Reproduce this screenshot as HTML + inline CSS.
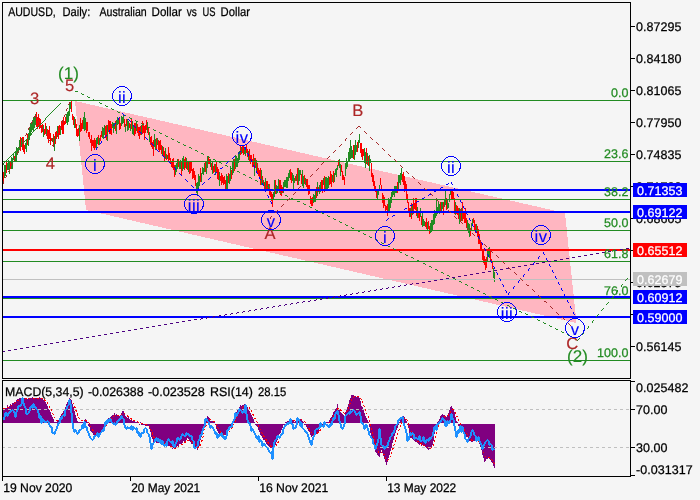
<!DOCTYPE html>
<html><head><meta charset="utf-8"><title>AUDUSD Daily</title>
<style>
html,body{margin:0;padding:0;background:#f5f5f5;}
body{width:700px;height:500px;overflow:hidden;}
svg{display:block;font-family:"Liberation Sans",sans-serif;}
svg text{white-space:pre;paint-order:stroke;}
#w{position:absolute;left:0;top:0;width:700px;height:500px;will-change:transform;}
</style></head><body>
<div id="w">
<svg width="700" height="500" viewBox="0 0 700 500" shape-rendering="crispEdges" text-rendering="geometricPrecision">
<rect width="700" height="500" fill="#f5f5f5"/>
<polygon points="75,101 565,213 576.5,323 86,210" fill="#ffb6c1"/>
<g>
<rect x="3" y="172" width="1" height="9" fill="#ff0000"/>
<rect x="4" y="165" width="1" height="13" fill="#228b22"/>
<rect x="5" y="165" width="1" height="11" fill="#228b22"/>
<rect x="6" y="161" width="1" height="12" fill="#ff0000"/>
<rect x="7" y="163" width="1" height="7" fill="#228b22"/>
<rect x="8" y="160" width="1" height="10" fill="#228b22"/>
<rect x="9" y="162" width="1" height="12" fill="#228b22"/>
<rect x="10" y="162" width="1" height="7" fill="#ff0000"/>
<rect x="11" y="157" width="1" height="12" fill="#228b22"/>
<rect x="12" y="158" width="1" height="11" fill="#228b22"/>
<rect x="13" y="153" width="1" height="7" fill="#228b22"/>
<rect x="14" y="156" width="1" height="6" fill="#ff0000"/>
<rect x="15" y="151" width="1" height="11" fill="#228b22"/>
<rect x="16" y="147" width="1" height="14" fill="#228b22"/>
<rect x="17" y="148" width="1" height="7" fill="#228b22"/>
<rect x="18" y="147" width="1" height="6" fill="#228b22"/>
<rect x="19" y="140" width="1" height="10" fill="#228b22"/>
<rect x="20" y="137" width="1" height="14" fill="#ff0000"/>
<rect x="21" y="138" width="1" height="9" fill="#228b22"/>
<rect x="22" y="137" width="1" height="13" fill="#ff0000"/>
<rect x="23" y="137" width="1" height="15" fill="#ff0000"/>
<rect x="24" y="145" width="1" height="9" fill="#ff0000"/>
<rect x="25" y="143" width="1" height="6" fill="#228b22"/>
<rect x="26" y="140" width="1" height="12" fill="#228b22"/>
<rect x="27" y="134" width="1" height="11" fill="#ff0000"/>
<rect x="28" y="133" width="1" height="13" fill="#228b22"/>
<rect x="29" y="128" width="1" height="12" fill="#228b22"/>
<rect x="30" y="123" width="1" height="12" fill="#228b22"/>
<rect x="31" y="123" width="1" height="9" fill="#228b22"/>
<rect x="32" y="120" width="1" height="10" fill="#228b22"/>
<rect x="33" y="117" width="1" height="14" fill="#228b22"/>
<rect x="34" y="117" width="1" height="11" fill="#228b22"/>
<rect x="35" y="114" width="1" height="11" fill="#228b22"/>
<rect x="36" y="112" width="1" height="15" fill="#ff0000"/>
<rect x="37" y="117" width="1" height="12" fill="#ff0000"/>
<rect x="38" y="114" width="1" height="13" fill="#ff0000"/>
<rect x="39" y="118" width="1" height="11" fill="#ff0000"/>
<rect x="40" y="119" width="1" height="9" fill="#ff0000"/>
<rect x="41" y="125" width="1" height="8" fill="#ff0000"/>
<rect x="42" y="124" width="1" height="8" fill="#ff0000"/>
<rect x="43" y="125" width="1" height="12" fill="#228b22"/>
<rect x="44" y="129" width="1" height="6" fill="#ff0000"/>
<rect x="45" y="123" width="1" height="11" fill="#ff0000"/>
<rect x="46" y="126" width="1" height="8" fill="#228b22"/>
<rect x="47" y="129" width="1" height="10" fill="#ff0000"/>
<rect x="48" y="130" width="1" height="13" fill="#ff0000"/>
<rect x="49" y="126" width="1" height="13" fill="#ff0000"/>
<rect x="50" y="133" width="1" height="12" fill="#ff0000"/>
<rect x="51" y="138" width="1" height="3" fill="#ff0000"/>
<rect x="52" y="138" width="1" height="4" fill="#228b22"/>
<rect x="53" y="134" width="1" height="11" fill="#ff0000"/>
<rect x="54" y="136" width="1" height="15" fill="#228b22"/>
<rect x="55" y="132" width="1" height="12" fill="#ff0000"/>
<rect x="56" y="131" width="1" height="8" fill="#ff0000"/>
<rect x="57" y="126" width="1" height="11" fill="#228b22"/>
<rect x="58" y="126" width="1" height="13" fill="#ff0000"/>
<rect x="59" y="125" width="1" height="10" fill="#ff0000"/>
<rect x="60" y="128" width="1" height="7" fill="#228b22"/>
<rect x="61" y="121" width="1" height="9" fill="#ff0000"/>
<rect x="62" y="121" width="1" height="13" fill="#ff0000"/>
<rect x="63" y="117" width="1" height="17" fill="#ff0000"/>
<rect x="64" y="121" width="1" height="4" fill="#ff0000"/>
<rect x="65" y="117" width="1" height="7" fill="#ff0000"/>
<rect x="66" y="114" width="1" height="9" fill="#228b22"/>
<rect x="67" y="112" width="1" height="13" fill="#228b22"/>
<rect x="68" y="111" width="1" height="11" fill="#228b22"/>
<rect x="69" y="102" width="1" height="14" fill="#228b22"/>
<rect x="70" y="102" width="1" height="7" fill="#228b22"/>
<rect x="71" y="101" width="1" height="11" fill="#ff0000"/>
<rect x="72" y="114" width="1" height="6" fill="#ff0000"/>
<rect x="73" y="116" width="1" height="9" fill="#ff0000"/>
<rect x="74" y="117" width="1" height="11" fill="#228b22"/>
<rect x="75" y="119" width="1" height="9" fill="#ff0000"/>
<rect x="76" y="124" width="1" height="12" fill="#ff0000"/>
<rect x="77" y="129" width="1" height="8" fill="#ff0000"/>
<rect x="78" y="128" width="1" height="8" fill="#ff0000"/>
<rect x="79" y="125" width="1" height="16" fill="#228b22"/>
<rect x="80" y="118" width="1" height="14" fill="#ff0000"/>
<rect x="81" y="123" width="1" height="8" fill="#ff0000"/>
<rect x="82" y="120" width="1" height="9" fill="#ff0000"/>
<rect x="83" y="117" width="1" height="12" fill="#228b22"/>
<rect x="84" y="112" width="1" height="19" fill="#228b22"/>
<rect x="85" y="118" width="1" height="12" fill="#228b22"/>
<rect x="86" y="122" width="1" height="11" fill="#ff0000"/>
<rect x="87" y="122" width="1" height="9" fill="#ff0000"/>
<rect x="88" y="132" width="1" height="5" fill="#ff0000"/>
<rect x="89" y="132" width="1" height="7" fill="#ff0000"/>
<rect x="90" y="139" width="1" height="4" fill="#ff0000"/>
<rect x="91" y="135" width="1" height="16" fill="#ff0000"/>
<rect x="92" y="140" width="1" height="6" fill="#ff0000"/>
<rect x="93" y="140" width="1" height="8" fill="#ff0000"/>
<rect x="94" y="138" width="1" height="12" fill="#ff0000"/>
<rect x="95" y="140" width="1" height="8" fill="#ff0000"/>
<rect x="96" y="138" width="1" height="10" fill="#228b22"/>
<rect x="97" y="137" width="1" height="7" fill="#228b22"/>
<rect x="98" y="135" width="1" height="10" fill="#ff0000"/>
<rect x="99" y="138" width="1" height="7" fill="#228b22"/>
<rect x="100" y="135" width="1" height="6" fill="#ff0000"/>
<rect x="101" y="131" width="1" height="6" fill="#ff0000"/>
<rect x="102" y="127" width="1" height="11" fill="#228b22"/>
<rect x="103" y="128" width="1" height="11" fill="#228b22"/>
<rect x="104" y="125" width="1" height="10" fill="#228b22"/>
<rect x="105" y="126" width="1" height="12" fill="#ff0000"/>
<rect x="106" y="125" width="1" height="15" fill="#ff0000"/>
<rect x="107" y="125" width="1" height="16" fill="#228b22"/>
<rect x="108" y="120" width="1" height="12" fill="#ff0000"/>
<rect x="109" y="121" width="1" height="13" fill="#ff0000"/>
<rect x="110" y="121" width="1" height="13" fill="#ff0000"/>
<rect x="111" y="124" width="1" height="11" fill="#ff0000"/>
<rect x="112" y="122" width="1" height="6" fill="#228b22"/>
<rect x="113" y="123" width="1" height="10" fill="#228b22"/>
<rect x="114" y="123" width="1" height="6" fill="#228b22"/>
<rect x="115" y="121" width="1" height="10" fill="#ff0000"/>
<rect x="116" y="120" width="1" height="14" fill="#228b22"/>
<rect x="117" y="117" width="1" height="8" fill="#228b22"/>
<rect x="118" y="119" width="1" height="5" fill="#228b22"/>
<rect x="119" y="117" width="1" height="13" fill="#ff0000"/>
<rect x="120" y="123" width="1" height="6" fill="#ff0000"/>
<rect x="121" y="116" width="1" height="10" fill="#228b22"/>
<rect x="122" y="117" width="1" height="7" fill="#228b22"/>
<rect x="123" y="115" width="1" height="8" fill="#228b22"/>
<rect x="124" y="119" width="1" height="8" fill="#ff0000"/>
<rect x="125" y="124" width="1" height="8" fill="#228b22"/>
<rect x="126" y="119" width="1" height="7" fill="#ff0000"/>
<rect x="127" y="119" width="1" height="12" fill="#228b22"/>
<rect x="128" y="121" width="1" height="9" fill="#228b22"/>
<rect x="129" y="123" width="1" height="5" fill="#ff0000"/>
<rect x="130" y="124" width="1" height="7" fill="#228b22"/>
<rect x="131" y="119" width="1" height="10" fill="#ff0000"/>
<rect x="132" y="121" width="1" height="13" fill="#228b22"/>
<rect x="133" y="126" width="1" height="9" fill="#228b22"/>
<rect x="134" y="123" width="1" height="13" fill="#ff0000"/>
<rect x="135" y="123" width="1" height="11" fill="#ff0000"/>
<rect x="136" y="121" width="1" height="10" fill="#228b22"/>
<rect x="137" y="124" width="1" height="9" fill="#ff0000"/>
<rect x="138" y="127" width="1" height="9" fill="#ff0000"/>
<rect x="139" y="127" width="1" height="12" fill="#ff0000"/>
<rect x="140" y="126" width="1" height="9" fill="#ff0000"/>
<rect x="141" y="125" width="1" height="10" fill="#228b22"/>
<rect x="142" y="121" width="1" height="13" fill="#ff0000"/>
<rect x="143" y="123" width="1" height="10" fill="#ff0000"/>
<rect x="144" y="126" width="1" height="14" fill="#ff0000"/>
<rect x="145" y="125" width="1" height="8" fill="#ff0000"/>
<rect x="146" y="120" width="1" height="10" fill="#ff0000"/>
<rect x="147" y="122" width="1" height="11" fill="#228b22"/>
<rect x="148" y="128" width="1" height="7" fill="#ff0000"/>
<rect x="149" y="132" width="1" height="10" fill="#228b22"/>
<rect x="150" y="137" width="1" height="8" fill="#ff0000"/>
<rect x="151" y="136" width="1" height="11" fill="#ff0000"/>
<rect x="152" y="142" width="1" height="7" fill="#ff0000"/>
<rect x="153" y="140" width="1" height="16" fill="#ff0000"/>
<rect x="154" y="134" width="1" height="13" fill="#228b22"/>
<rect x="155" y="139" width="1" height="11" fill="#228b22"/>
<rect x="156" y="138" width="1" height="12" fill="#ff0000"/>
<rect x="157" y="138" width="1" height="7" fill="#228b22"/>
<rect x="158" y="140" width="1" height="10" fill="#ff0000"/>
<rect x="159" y="141" width="1" height="11" fill="#ff0000"/>
<rect x="160" y="140" width="1" height="10" fill="#ff0000"/>
<rect x="161" y="145" width="1" height="9" fill="#ff0000"/>
<rect x="162" y="146" width="1" height="10" fill="#228b22"/>
<rect x="163" y="147" width="1" height="10" fill="#ff0000"/>
<rect x="164" y="151" width="1" height="10" fill="#ff0000"/>
<rect x="165" y="148" width="1" height="11" fill="#228b22"/>
<rect x="166" y="154" width="1" height="6" fill="#ff0000"/>
<rect x="167" y="155" width="1" height="4" fill="#228b22"/>
<rect x="168" y="147" width="1" height="15" fill="#ff0000"/>
<rect x="169" y="153" width="1" height="7" fill="#ff0000"/>
<rect x="170" y="158" width="1" height="5" fill="#ff0000"/>
<rect x="171" y="161" width="1" height="6" fill="#ff0000"/>
<rect x="172" y="159" width="1" height="9" fill="#ff0000"/>
<rect x="173" y="158" width="1" height="12" fill="#ff0000"/>
<rect x="174" y="165" width="1" height="12" fill="#ff0000"/>
<rect x="175" y="165" width="1" height="10" fill="#228b22"/>
<rect x="176" y="163" width="1" height="9" fill="#228b22"/>
<rect x="177" y="159" width="1" height="10" fill="#228b22"/>
<rect x="178" y="159" width="1" height="8" fill="#ff0000"/>
<rect x="179" y="161" width="1" height="8" fill="#228b22"/>
<rect x="180" y="160" width="1" height="9" fill="#228b22"/>
<rect x="181" y="162" width="1" height="14" fill="#ff0000"/>
<rect x="182" y="158" width="1" height="13" fill="#228b22"/>
<rect x="183" y="156" width="1" height="13" fill="#228b22"/>
<rect x="184" y="159" width="1" height="11" fill="#ff0000"/>
<rect x="185" y="157" width="1" height="11" fill="#ff0000"/>
<rect x="186" y="158" width="1" height="11" fill="#228b22"/>
<rect x="187" y="161" width="1" height="9" fill="#ff0000"/>
<rect x="188" y="162" width="1" height="10" fill="#228b22"/>
<rect x="189" y="162" width="1" height="12" fill="#ff0000"/>
<rect x="190" y="162" width="1" height="11" fill="#ff0000"/>
<rect x="191" y="162" width="1" height="9" fill="#ff0000"/>
<rect x="192" y="169" width="1" height="10" fill="#ff0000"/>
<rect x="193" y="168" width="1" height="10" fill="#ff0000"/>
<rect x="194" y="171" width="1" height="9" fill="#ff0000"/>
<rect x="195" y="175" width="1" height="11" fill="#ff0000"/>
<rect x="196" y="183" width="1" height="10" fill="#228b22"/>
<rect x="197" y="182" width="1" height="13" fill="#228b22"/>
<rect x="198" y="174" width="1" height="14" fill="#228b22"/>
<rect x="199" y="176" width="1" height="10" fill="#228b22"/>
<rect x="200" y="168" width="1" height="14" fill="#ff0000"/>
<rect x="201" y="173" width="1" height="9" fill="#228b22"/>
<rect x="202" y="167" width="1" height="7" fill="#228b22"/>
<rect x="203" y="168" width="1" height="7" fill="#228b22"/>
<rect x="204" y="163" width="1" height="9" fill="#228b22"/>
<rect x="205" y="161" width="1" height="11" fill="#ff0000"/>
<rect x="206" y="161" width="1" height="13" fill="#228b22"/>
<rect x="207" y="157" width="1" height="11" fill="#228b22"/>
<rect x="208" y="157" width="1" height="7" fill="#ff0000"/>
<rect x="209" y="159" width="1" height="5" fill="#ff0000"/>
<rect x="210" y="159" width="1" height="8" fill="#228b22"/>
<rect x="211" y="163" width="1" height="7" fill="#ff0000"/>
<rect x="212" y="162" width="1" height="12" fill="#228b22"/>
<rect x="213" y="166" width="1" height="7" fill="#ff0000"/>
<rect x="214" y="164" width="1" height="8" fill="#ff0000"/>
<rect x="215" y="164" width="1" height="11" fill="#228b22"/>
<rect x="216" y="162" width="1" height="10" fill="#ff0000"/>
<rect x="217" y="167" width="1" height="12" fill="#ff0000"/>
<rect x="218" y="169" width="1" height="11" fill="#ff0000"/>
<rect x="219" y="172" width="1" height="14" fill="#228b22"/>
<rect x="220" y="176" width="1" height="5" fill="#ff0000"/>
<rect x="221" y="173" width="1" height="12" fill="#ff0000"/>
<rect x="222" y="175" width="1" height="8" fill="#ff0000"/>
<rect x="223" y="177" width="1" height="8" fill="#ff0000"/>
<rect x="224" y="176" width="1" height="8" fill="#ff0000"/>
<rect x="225" y="180" width="1" height="9" fill="#ff0000"/>
<rect x="226" y="174" width="1" height="15" fill="#228b22"/>
<rect x="227" y="176" width="1" height="13" fill="#228b22"/>
<rect x="228" y="173" width="1" height="10" fill="#ff0000"/>
<rect x="229" y="174" width="1" height="10" fill="#228b22"/>
<rect x="230" y="166" width="1" height="15" fill="#228b22"/>
<rect x="231" y="170" width="1" height="9" fill="#ff0000"/>
<rect x="232" y="162" width="1" height="13" fill="#228b22"/>
<rect x="233" y="159" width="1" height="14" fill="#228b22"/>
<rect x="234" y="159" width="1" height="12" fill="#ff0000"/>
<rect x="235" y="155" width="1" height="14" fill="#228b22"/>
<rect x="236" y="156" width="1" height="11" fill="#228b22"/>
<rect x="237" y="158" width="1" height="9" fill="#228b22"/>
<rect x="238" y="152" width="1" height="11" fill="#228b22"/>
<rect x="239" y="151" width="1" height="9" fill="#228b22"/>
<rect x="240" y="146" width="1" height="9" fill="#ff0000"/>
<rect x="241" y="147" width="1" height="7" fill="#228b22"/>
<rect x="242" y="146" width="1" height="7" fill="#ff0000"/>
<rect x="243" y="146" width="1" height="9" fill="#ff0000"/>
<rect x="244" y="148" width="1" height="6" fill="#228b22"/>
<rect x="245" y="147" width="1" height="9" fill="#228b22"/>
<rect x="246" y="145" width="1" height="8" fill="#ff0000"/>
<rect x="247" y="149" width="1" height="8" fill="#ff0000"/>
<rect x="248" y="151" width="1" height="9" fill="#228b22"/>
<rect x="249" y="149" width="1" height="13" fill="#ff0000"/>
<rect x="250" y="155" width="1" height="9" fill="#ff0000"/>
<rect x="251" y="155" width="1" height="6" fill="#ff0000"/>
<rect x="252" y="159" width="1" height="8" fill="#ff0000"/>
<rect x="253" y="154" width="1" height="13" fill="#ff0000"/>
<rect x="254" y="158" width="1" height="18" fill="#228b22"/>
<rect x="255" y="158" width="1" height="10" fill="#ff0000"/>
<rect x="256" y="160" width="1" height="13" fill="#228b22"/>
<rect x="257" y="163" width="1" height="10" fill="#ff0000"/>
<rect x="258" y="168" width="1" height="8" fill="#ff0000"/>
<rect x="259" y="170" width="1" height="8" fill="#ff0000"/>
<rect x="260" y="168" width="1" height="17" fill="#ff0000"/>
<rect x="261" y="170" width="1" height="15" fill="#228b22"/>
<rect x="262" y="176" width="1" height="7" fill="#ff0000"/>
<rect x="263" y="180" width="1" height="4" fill="#228b22"/>
<rect x="264" y="182" width="1" height="7" fill="#ff0000"/>
<rect x="265" y="178" width="1" height="13" fill="#228b22"/>
<rect x="266" y="181" width="1" height="9" fill="#ff0000"/>
<rect x="267" y="181" width="1" height="9" fill="#ff0000"/>
<rect x="268" y="184" width="1" height="5" fill="#228b22"/>
<rect x="269" y="184" width="1" height="11" fill="#ff0000"/>
<rect x="270" y="190" width="1" height="7" fill="#ff0000"/>
<rect x="271" y="192" width="1" height="9" fill="#ff0000"/>
<rect x="272" y="194" width="1" height="13" fill="#ff0000"/>
<rect x="273" y="192" width="1" height="8" fill="#228b22"/>
<rect x="274" y="180" width="1" height="17" fill="#228b22"/>
<rect x="275" y="180" width="1" height="14" fill="#ff0000"/>
<rect x="276" y="185" width="1" height="9" fill="#228b22"/>
<rect x="277" y="186" width="1" height="7" fill="#228b22"/>
<rect x="278" y="179" width="1" height="12" fill="#228b22"/>
<rect x="279" y="180" width="1" height="13" fill="#ff0000"/>
<rect x="280" y="180" width="1" height="15" fill="#ff0000"/>
<rect x="281" y="185" width="1" height="11" fill="#ff0000"/>
<rect x="282" y="187" width="1" height="6" fill="#ff0000"/>
<rect x="283" y="182" width="1" height="11" fill="#228b22"/>
<rect x="284" y="180" width="1" height="7" fill="#228b22"/>
<rect x="285" y="180" width="1" height="7" fill="#228b22"/>
<rect x="286" y="177" width="1" height="11" fill="#228b22"/>
<rect x="287" y="177" width="1" height="11" fill="#228b22"/>
<rect x="288" y="173" width="1" height="8" fill="#228b22"/>
<rect x="289" y="170" width="1" height="8" fill="#228b22"/>
<rect x="290" y="169" width="1" height="11" fill="#ff0000"/>
<rect x="291" y="172" width="1" height="11" fill="#ff0000"/>
<rect x="292" y="173" width="1" height="8" fill="#228b22"/>
<rect x="293" y="175" width="1" height="15" fill="#228b22"/>
<rect x="294" y="178" width="1" height="5" fill="#228b22"/>
<rect x="295" y="176" width="1" height="5" fill="#ff0000"/>
<rect x="296" y="174" width="1" height="7" fill="#228b22"/>
<rect x="297" y="168" width="1" height="17" fill="#ff0000"/>
<rect x="298" y="168" width="1" height="17" fill="#228b22"/>
<rect x="299" y="170" width="1" height="11" fill="#228b22"/>
<rect x="300" y="170" width="1" height="5" fill="#228b22"/>
<rect x="301" y="174" width="1" height="10" fill="#ff0000"/>
<rect x="302" y="170" width="1" height="16" fill="#228b22"/>
<rect x="303" y="176" width="1" height="12" fill="#228b22"/>
<rect x="304" y="175" width="1" height="9" fill="#ff0000"/>
<rect x="305" y="178" width="1" height="7" fill="#228b22"/>
<rect x="306" y="179" width="1" height="8" fill="#ff0000"/>
<rect x="307" y="179" width="1" height="12" fill="#ff0000"/>
<rect x="308" y="185" width="1" height="10" fill="#ff0000"/>
<rect x="309" y="185" width="1" height="9" fill="#ff0000"/>
<rect x="310" y="196" width="1" height="8" fill="#ff0000"/>
<rect x="311" y="198" width="1" height="8" fill="#ff0000"/>
<rect x="312" y="197" width="1" height="9" fill="#ff0000"/>
<rect x="313" y="194" width="1" height="9" fill="#228b22"/>
<rect x="314" y="195" width="1" height="7" fill="#228b22"/>
<rect x="315" y="191" width="1" height="11" fill="#228b22"/>
<rect x="316" y="187" width="1" height="11" fill="#ff0000"/>
<rect x="317" y="182" width="1" height="14" fill="#228b22"/>
<rect x="318" y="187" width="1" height="5" fill="#ff0000"/>
<rect x="319" y="185" width="1" height="9" fill="#228b22"/>
<rect x="320" y="182" width="1" height="10" fill="#228b22"/>
<rect x="321" y="180" width="1" height="10" fill="#ff0000"/>
<rect x="322" y="180" width="1" height="13" fill="#ff0000"/>
<rect x="323" y="178" width="1" height="7" fill="#228b22"/>
<rect x="324" y="176" width="1" height="16" fill="#ff0000"/>
<rect x="325" y="177" width="1" height="13" fill="#228b22"/>
<rect x="326" y="177" width="1" height="13" fill="#228b22"/>
<rect x="327" y="178" width="1" height="12" fill="#228b22"/>
<rect x="328" y="176" width="1" height="12" fill="#228b22"/>
<rect x="329" y="177" width="1" height="8" fill="#ff0000"/>
<rect x="330" y="171" width="1" height="13" fill="#ff0000"/>
<rect x="331" y="174" width="1" height="13" fill="#ff0000"/>
<rect x="332" y="175" width="1" height="7" fill="#228b22"/>
<rect x="333" y="171" width="1" height="12" fill="#ff0000"/>
<rect x="334" y="173" width="1" height="9" fill="#228b22"/>
<rect x="335" y="169" width="1" height="6" fill="#228b22"/>
<rect x="336" y="168" width="1" height="9" fill="#228b22"/>
<rect x="337" y="165" width="1" height="5" fill="#228b22"/>
<rect x="338" y="160" width="1" height="6" fill="#ff0000"/>
<rect x="339" y="159" width="1" height="9" fill="#228b22"/>
<rect x="340" y="164" width="1" height="12" fill="#228b22"/>
<rect x="341" y="165" width="1" height="7" fill="#ff0000"/>
<rect x="342" y="171" width="1" height="9" fill="#ff0000"/>
<rect x="343" y="175" width="1" height="5" fill="#ff0000"/>
<rect x="344" y="177" width="1" height="8" fill="#ff0000"/>
<rect x="345" y="163" width="1" height="13" fill="#228b22"/>
<rect x="346" y="158" width="1" height="11" fill="#228b22"/>
<rect x="347" y="162" width="1" height="5" fill="#228b22"/>
<rect x="348" y="152" width="1" height="9" fill="#228b22"/>
<rect x="349" y="148" width="1" height="14" fill="#228b22"/>
<rect x="350" y="140" width="1" height="19" fill="#228b22"/>
<rect x="351" y="146" width="1" height="12" fill="#228b22"/>
<rect x="352" y="150" width="1" height="8" fill="#228b22"/>
<rect x="353" y="145" width="1" height="14" fill="#ff0000"/>
<rect x="354" y="145" width="1" height="15" fill="#228b22"/>
<rect x="355" y="140" width="1" height="15" fill="#228b22"/>
<rect x="356" y="145" width="1" height="7" fill="#228b22"/>
<rect x="357" y="142" width="1" height="10" fill="#ff0000"/>
<rect x="358" y="140" width="1" height="8" fill="#228b22"/>
<rect x="359" y="134" width="1" height="9" fill="#228b22"/>
<rect x="360" y="143" width="1" height="10" fill="#ff0000"/>
<rect x="361" y="143" width="1" height="14" fill="#ff0000"/>
<rect x="362" y="149" width="1" height="11" fill="#ff0000"/>
<rect x="363" y="149" width="1" height="7" fill="#ff0000"/>
<rect x="364" y="148" width="1" height="15" fill="#228b22"/>
<rect x="365" y="152" width="1" height="16" fill="#228b22"/>
<rect x="366" y="148" width="1" height="16" fill="#ff0000"/>
<rect x="367" y="153" width="1" height="12" fill="#228b22"/>
<rect x="368" y="156" width="1" height="10" fill="#ff0000"/>
<rect x="369" y="155" width="1" height="16" fill="#228b22"/>
<rect x="370" y="159" width="1" height="4" fill="#228b22"/>
<rect x="371" y="163" width="1" height="14" fill="#ff0000"/>
<rect x="372" y="173" width="1" height="9" fill="#ff0000"/>
<rect x="373" y="175" width="1" height="11" fill="#ff0000"/>
<rect x="374" y="181" width="1" height="9" fill="#ff0000"/>
<rect x="375" y="186" width="1" height="6" fill="#ff0000"/>
<rect x="376" y="191" width="1" height="7" fill="#ff0000"/>
<rect x="377" y="190" width="1" height="10" fill="#228b22"/>
<rect x="378" y="190" width="1" height="5" fill="#228b22"/>
<rect x="379" y="185" width="1" height="5" fill="#228b22"/>
<rect x="380" y="178" width="1" height="7" fill="#ff0000"/>
<rect x="381" y="185" width="1" height="6" fill="#ff0000"/>
<rect x="382" y="193" width="1" height="10" fill="#ff0000"/>
<rect x="383" y="195" width="1" height="13" fill="#ff0000"/>
<rect x="384" y="197" width="1" height="9" fill="#ff0000"/>
<rect x="385" y="205" width="1" height="8" fill="#ff0000"/>
<rect x="386" y="206" width="1" height="4" fill="#ff0000"/>
<rect x="387" y="204" width="1" height="12" fill="#ff0000"/>
<rect x="388" y="198" width="1" height="14" fill="#228b22"/>
<rect x="389" y="200" width="1" height="12" fill="#228b22"/>
<rect x="390" y="197" width="1" height="11" fill="#228b22"/>
<rect x="391" y="192" width="1" height="11" fill="#228b22"/>
<rect x="392" y="191" width="1" height="6" fill="#228b22"/>
<rect x="393" y="189" width="1" height="6" fill="#228b22"/>
<rect x="394" y="186" width="1" height="11" fill="#228b22"/>
<rect x="395" y="186" width="1" height="7" fill="#228b22"/>
<rect x="396" y="186" width="1" height="7" fill="#228b22"/>
<rect x="397" y="182" width="1" height="11" fill="#ff0000"/>
<rect x="398" y="175" width="1" height="14" fill="#228b22"/>
<rect x="399" y="175" width="1" height="8" fill="#228b22"/>
<rect x="400" y="173" width="1" height="12" fill="#228b22"/>
<rect x="401" y="168" width="1" height="12" fill="#228b22"/>
<rect x="402" y="174" width="1" height="8" fill="#ff0000"/>
<rect x="403" y="172" width="1" height="13" fill="#ff0000"/>
<rect x="404" y="176" width="1" height="16" fill="#ff0000"/>
<rect x="405" y="181" width="1" height="8" fill="#ff0000"/>
<rect x="406" y="184" width="1" height="15" fill="#ff0000"/>
<rect x="407" y="194" width="1" height="9" fill="#ff0000"/>
<rect x="408" y="202" width="1" height="9" fill="#ff0000"/>
<rect x="409" y="208" width="1" height="9" fill="#ff0000"/>
<rect x="410" y="208" width="1" height="9" fill="#228b22"/>
<rect x="411" y="203" width="1" height="16" fill="#ff0000"/>
<rect x="412" y="205" width="1" height="10" fill="#228b22"/>
<rect x="413" y="198" width="1" height="16" fill="#ff0000"/>
<rect x="414" y="203" width="1" height="6" fill="#ff0000"/>
<rect x="415" y="198" width="1" height="12" fill="#ff0000"/>
<rect x="416" y="198" width="1" height="18" fill="#ff0000"/>
<rect x="417" y="207" width="1" height="11" fill="#228b22"/>
<rect x="418" y="211" width="1" height="7" fill="#ff0000"/>
<rect x="419" y="211" width="1" height="10" fill="#ff0000"/>
<rect x="420" y="208" width="1" height="9" fill="#228b22"/>
<rect x="421" y="216" width="1" height="9" fill="#ff0000"/>
<rect x="422" y="212" width="1" height="15" fill="#228b22"/>
<rect x="423" y="219" width="1" height="7" fill="#228b22"/>
<rect x="424" y="221" width="1" height="5" fill="#228b22"/>
<rect x="425" y="222" width="1" height="5" fill="#ff0000"/>
<rect x="426" y="218" width="1" height="11" fill="#ff0000"/>
<rect x="427" y="222" width="1" height="9" fill="#228b22"/>
<rect x="428" y="221" width="1" height="8" fill="#ff0000"/>
<rect x="429" y="226" width="1" height="8" fill="#ff0000"/>
<rect x="430" y="223" width="1" height="10" fill="#228b22"/>
<rect x="431" y="220" width="1" height="12" fill="#228b22"/>
<rect x="432" y="220" width="1" height="10" fill="#228b22"/>
<rect x="433" y="214" width="1" height="11" fill="#228b22"/>
<rect x="434" y="210" width="1" height="14" fill="#228b22"/>
<rect x="435" y="211" width="1" height="7" fill="#228b22"/>
<rect x="436" y="198" width="1" height="18" fill="#228b22"/>
<rect x="437" y="207" width="1" height="7" fill="#228b22"/>
<rect x="438" y="201" width="1" height="12" fill="#228b22"/>
<rect x="439" y="204" width="1" height="10" fill="#228b22"/>
<rect x="440" y="202" width="1" height="11" fill="#ff0000"/>
<rect x="441" y="202" width="1" height="9" fill="#228b22"/>
<rect x="442" y="202" width="1" height="7" fill="#228b22"/>
<rect x="443" y="202" width="1" height="13" fill="#ff0000"/>
<rect x="444" y="199" width="1" height="7" fill="#228b22"/>
<rect x="445" y="190" width="1" height="15" fill="#228b22"/>
<rect x="446" y="198" width="1" height="12" fill="#ff0000"/>
<rect x="447" y="199" width="1" height="10" fill="#228b22"/>
<rect x="448" y="203" width="1" height="5" fill="#228b22"/>
<rect x="449" y="194" width="1" height="8" fill="#228b22"/>
<rect x="450" y="191" width="1" height="4" fill="#228b22"/>
<rect x="451" y="189" width="1" height="11" fill="#ff0000"/>
<rect x="452" y="189" width="1" height="11" fill="#ff0000"/>
<rect x="453" y="192" width="1" height="8" fill="#ff0000"/>
<rect x="454" y="198" width="1" height="16" fill="#ff0000"/>
<rect x="455" y="202" width="1" height="13" fill="#228b22"/>
<rect x="456" y="205" width="1" height="9" fill="#ff0000"/>
<rect x="457" y="206" width="1" height="9" fill="#ff0000"/>
<rect x="458" y="208" width="1" height="11" fill="#ff0000"/>
<rect x="459" y="208" width="1" height="16" fill="#228b22"/>
<rect x="460" y="209" width="1" height="12" fill="#ff0000"/>
<rect x="461" y="208" width="1" height="13" fill="#228b22"/>
<rect x="462" y="202" width="1" height="19" fill="#ff0000"/>
<rect x="463" y="211" width="1" height="8" fill="#ff0000"/>
<rect x="464" y="212" width="1" height="11" fill="#ff0000"/>
<rect x="465" y="208" width="1" height="15" fill="#ff0000"/>
<rect x="466" y="218" width="1" height="10" fill="#ff0000"/>
<rect x="467" y="220" width="1" height="10" fill="#228b22"/>
<rect x="468" y="223" width="1" height="10" fill="#228b22"/>
<rect x="469" y="224" width="1" height="13" fill="#228b22"/>
<rect x="470" y="228" width="1" height="8" fill="#ff0000"/>
<rect x="471" y="223" width="1" height="8" fill="#228b22"/>
<rect x="472" y="219" width="1" height="6" fill="#228b22"/>
<rect x="473" y="218" width="1" height="5" fill="#ff0000"/>
<rect x="474" y="220" width="1" height="11" fill="#ff0000"/>
<rect x="475" y="224" width="1" height="9" fill="#ff0000"/>
<rect x="476" y="224" width="1" height="9" fill="#228b22"/>
<rect x="477" y="226" width="1" height="11" fill="#ff0000"/>
<rect x="478" y="229" width="1" height="15" fill="#ff0000"/>
<rect x="479" y="234" width="1" height="10" fill="#ff0000"/>
<rect x="480" y="241" width="1" height="8" fill="#ff0000"/>
<rect x="481" y="242" width="1" height="9" fill="#ff0000"/>
<rect x="482" y="250" width="1" height="10" fill="#ff0000"/>
<rect x="483" y="251" width="1" height="12" fill="#ff0000"/>
<rect x="484" y="256" width="1" height="9" fill="#ff0000"/>
<rect x="485" y="259" width="1" height="11" fill="#ff0000"/>
<rect x="486" y="257" width="1" height="11" fill="#ff0000"/>
<rect x="487" y="249" width="1" height="13" fill="#228b22"/>
<rect x="488" y="248" width="1" height="8" fill="#228b22"/>
<rect x="489" y="247" width="1" height="11" fill="#228b22"/>
<rect x="490" y="249" width="1" height="11" fill="#ff0000"/>
<rect x="491" y="259" width="1" height="4" fill="#ff0000"/>
<rect x="492" y="261" width="1" height="8" fill="#ff0000"/>
<rect x="493" y="268" width="1" height="10" fill="#228b22"/>
<rect x="494" y="272" width="1" height="10" fill="#228b22"/>
</g>
<rect x="3" y="100" width="627" height="1" fill="#228b22"/>
<rect x="3" y="161" width="627" height="1" fill="#228b22"/>
<rect x="3" y="199" width="627" height="1" fill="#228b22"/>
<rect x="3" y="230" width="627" height="1" fill="#228b22"/>
<rect x="3" y="261" width="627" height="1" fill="#228b22"/>
<rect x="3" y="298" width="627" height="1" fill="#228b22"/>
<rect x="3" y="360" width="627" height="1" fill="#228b22"/>
<rect x="3" y="279" width="627" height="1" fill="#c0c0c0"/>
<rect x="3" y="189" width="627" height="2" fill="#0000ff"/>
<rect x="3" y="211" width="627" height="2" fill="#0000ff"/>
<rect x="3" y="296" width="627" height="2" fill="#0000ff"/>
<rect x="3" y="316" width="627" height="2" fill="#0000ff"/>
<rect x="3" y="249" width="627" height="2" fill="#ff0000"/>
<path d="M3 164h1v1h-1zM3 163h1v1h-1zM4 162h1v1h-1zM5 161h1v1h-1zM6 160h1v1h-1zM7 159h1v1h-1zM8 158h1v1h-1zM9 157h1v1h-1zM10 156h1v1h-1zM11 155h1v1h-1zM12 154h1v1h-1zM13 153h1v1h-1zM14 152h1v1h-1zM15 151h1v1h-1zM16 150h1v1h-1zM17 149h1v1h-1zM17 148h1v1h-1zM18 147h1v1h-1zM19 146h1v1h-1zM20 145h1v1h-1zM21 144h1v1h-1zM22 143h1v1h-1zM23 142h1v1h-1zM24 141h1v1h-1zM25 140h1v1h-1zM26 139h1v1h-1zM27 138h1v1h-1zM28 137h1v1h-1zM29 136h1v1h-1zM30 135h1v1h-1zM31 134h1v1h-1zM31 133h1v1h-1zM32 132h1v1h-1zM33 131h1v1h-1zM34 130h1v1h-1zM35 129h1v1h-1zM36 128h1v1h-1zM37 127h1v1h-1zM38 126h1v1h-1zM39 125h1v1h-1zM40 124h1v1h-1zM41 123h1v1h-1zM42 122h1v1h-1zM43 121h1v1h-1zM44 120h1v1h-1zM45 119h1v1h-1zM45 118h1v1h-1zM46 117h1v1h-1zM47 116h1v1h-1zM48 115h1v1h-1zM49 114h1v1h-1zM50 113h1v1h-1zM51 112h1v1h-1zM52 111h1v1h-1zM53 110h1v1h-1zM54 109h1v1h-1zM55 108h1v1h-1zM56 107h1v1h-1zM57 106h1v1h-1zM58 105h1v1h-1zM59 104h1v1h-1zM60 103h1v1h-1z" fill="#228b22"/>
<path d="M3 183h1v1h-1zM3 182h1v1h-1zM3 181h1v1h-1zM5 177h1v1h-1zM6 176h1v1h-1zM6 175h1v1h-1zM8 171h1v1h-1zM9 170h1v1h-1zM9 169h1v1h-1zM11 165h1v1h-1zM11 164h1v1h-1zM12 163h1v1h-1zM14 159h1v1h-1zM14 158h1v1h-1zM15 157h1v1h-1zM17 153h1v1h-1zM17 152h1v1h-1zM18 151h1v1h-1zM19 147h1v1h-1zM20 146h1v1h-1zM20 145h1v1h-1zM22 141h1v1h-1zM23 140h1v1h-1zM23 139h1v1h-1zM25 135h1v1h-1zM26 134h1v1h-1zM26 133h1v1h-1zM28 129h1v1h-1zM28 128h1v1h-1zM29 127h1v1h-1zM31 123h1v1h-1zM31 122h1v1h-1zM32 121h1v1h-1zM34 117h1v1h-1zM34 116h1v1h-1zM35 115h1v1h-1zM35 115h1v1h-1zM35 116h1v1h-1zM36 117h1v1h-1zM38 121h1v1h-1zM39 122h1v1h-1zM39 123h1v1h-1zM41 127h1v1h-1zM42 128h1v1h-1zM43 129h1v1h-1zM45 133h1v1h-1zM46 134h1v1h-1zM46 135h1v1h-1zM48 139h1v1h-1zM49 140h1v1h-1zM50 141h1v1h-1zM52 145h1v1h-1zM53 146h1v1h-1zM53 146h1v1h-1zM53 145h1v1h-1zM53 144h1v1h-1zM55 140h1v1h-1zM55 139h1v1h-1zM56 138h1v1h-1zM57 134h1v1h-1zM57 133h1v1h-1zM58 132h1v1h-1zM59 128h1v1h-1zM60 127h1v1h-1zM60 126h1v1h-1zM62 122h1v1h-1zM62 121h1v1h-1zM62 120h1v1h-1zM64 116h1v1h-1zM64 115h1v1h-1zM65 114h1v1h-1zM66 110h1v1h-1zM66 109h1v1h-1zM67 108h1v1h-1zM68 104h1v1h-1zM69 103h1v1h-1zM69 102h1v1h-1z" fill="#a52a2a"/>
<path d="M75 91h1v1h-1zM76 91h1v1h-1zM77 91h1v1h-1zM81 93h1v1h-1zM82 94h1v1h-1zM83 94h1v1h-1zM87 96h1v1h-1zM88 97h1v1h-1zM89 97h1v1h-1zM93 99h1v1h-1zM94 100h1v1h-1zM95 100h1v1h-1zM99 102h1v1h-1zM100 103h1v1h-1zM101 103h1v1h-1zM105 105h1v1h-1zM106 106h1v1h-1zM107 106h1v1h-1zM111 108h1v1h-1zM112 109h1v1h-1zM113 109h1v1h-1zM117 111h1v1h-1zM118 112h1v1h-1zM119 112h1v1h-1zM123 114h1v1h-1zM124 115h1v1h-1zM125 115h1v1h-1zM129 117h1v1h-1zM130 118h1v1h-1zM131 118h1v1h-1zM135 120h1v1h-1zM136 121h1v1h-1zM137 121h1v1h-1zM141 123h1v1h-1zM142 124h1v1h-1zM143 124h1v1h-1zM147 126h1v1h-1zM148 127h1v1h-1zM149 127h1v1h-1zM153 129h1v1h-1zM154 130h1v1h-1zM155 130h1v1h-1zM159 132h1v1h-1zM160 133h1v1h-1zM161 133h1v1h-1zM165 135h1v1h-1zM166 136h1v1h-1zM167 136h1v1h-1zM171 138h1v1h-1zM172 139h1v1h-1zM173 139h1v1h-1zM177 141h1v1h-1zM178 142h1v1h-1zM179 142h1v1h-1zM183 144h1v1h-1zM184 145h1v1h-1zM185 145h1v1h-1zM189 147h1v1h-1zM190 147h1v1h-1zM191 148h1v1h-1zM195 150h1v1h-1zM196 150h1v1h-1zM197 151h1v1h-1zM201 153h1v1h-1zM202 153h1v1h-1zM203 154h1v1h-1zM207 156h1v1h-1zM208 156h1v1h-1zM209 157h1v1h-1zM213 159h1v1h-1zM214 159h1v1h-1zM215 160h1v1h-1zM219 162h1v1h-1zM220 162h1v1h-1zM221 163h1v1h-1zM225 165h1v1h-1zM226 165h1v1h-1zM227 166h1v1h-1zM231 168h1v1h-1zM232 168h1v1h-1zM233 169h1v1h-1zM237 171h1v1h-1zM238 171h1v1h-1zM239 172h1v1h-1zM243 174h1v1h-1zM244 174h1v1h-1zM245 175h1v1h-1zM249 177h1v1h-1zM250 177h1v1h-1zM251 178h1v1h-1zM255 180h1v1h-1zM256 180h1v1h-1zM257 181h1v1h-1zM261 183h1v1h-1zM262 183h1v1h-1zM263 184h1v1h-1zM267 186h1v1h-1zM268 186h1v1h-1zM269 187h1v1h-1zM273 189h1v1h-1zM274 189h1v1h-1zM275 190h1v1h-1zM279 192h1v1h-1zM280 192h1v1h-1zM281 193h1v1h-1zM285 195h1v1h-1zM286 195h1v1h-1zM287 196h1v1h-1zM291 198h1v1h-1zM292 198h1v1h-1zM293 199h1v1h-1zM297 201h1v1h-1zM298 201h1v1h-1zM299 201h1v1h-1zM303 203h1v1h-1zM304 204h1v1h-1zM305 204h1v1h-1zM309 206h1v1h-1zM310 207h1v1h-1zM311 207h1v1h-1zM315 209h1v1h-1zM316 210h1v1h-1zM317 210h1v1h-1zM321 212h1v1h-1zM322 213h1v1h-1zM323 213h1v1h-1zM327 215h1v1h-1zM328 216h1v1h-1zM329 216h1v1h-1zM333 218h1v1h-1zM334 219h1v1h-1zM335 219h1v1h-1zM339 221h1v1h-1zM340 222h1v1h-1zM341 222h1v1h-1zM345 224h1v1h-1zM346 225h1v1h-1zM347 225h1v1h-1zM351 227h1v1h-1zM352 228h1v1h-1zM353 228h1v1h-1zM357 230h1v1h-1zM358 231h1v1h-1zM359 231h1v1h-1zM363 233h1v1h-1zM364 234h1v1h-1zM365 234h1v1h-1zM369 236h1v1h-1zM370 237h1v1h-1zM371 237h1v1h-1zM375 239h1v1h-1zM376 240h1v1h-1zM377 240h1v1h-1zM381 242h1v1h-1zM382 243h1v1h-1zM383 243h1v1h-1zM387 245h1v1h-1zM388 246h1v1h-1zM389 246h1v1h-1zM393 248h1v1h-1zM394 249h1v1h-1zM395 249h1v1h-1zM399 251h1v1h-1zM400 252h1v1h-1zM401 252h1v1h-1zM405 254h1v1h-1zM406 255h1v1h-1zM407 255h1v1h-1zM411 257h1v1h-1zM412 257h1v1h-1zM413 258h1v1h-1zM417 260h1v1h-1zM418 260h1v1h-1zM419 261h1v1h-1zM423 263h1v1h-1zM424 263h1v1h-1zM425 264h1v1h-1zM429 266h1v1h-1zM430 266h1v1h-1zM431 267h1v1h-1zM435 269h1v1h-1zM436 269h1v1h-1zM437 270h1v1h-1zM441 272h1v1h-1zM442 272h1v1h-1zM443 273h1v1h-1zM447 275h1v1h-1zM448 275h1v1h-1zM449 276h1v1h-1zM453 278h1v1h-1zM454 278h1v1h-1zM455 279h1v1h-1zM459 281h1v1h-1zM460 281h1v1h-1zM461 282h1v1h-1zM465 284h1v1h-1zM466 284h1v1h-1zM467 285h1v1h-1zM471 287h1v1h-1zM472 287h1v1h-1zM473 288h1v1h-1zM477 290h1v1h-1zM478 290h1v1h-1zM479 291h1v1h-1zM483 293h1v1h-1zM484 293h1v1h-1zM485 294h1v1h-1zM489 296h1v1h-1zM490 296h1v1h-1zM491 297h1v1h-1zM495 299h1v1h-1zM496 299h1v1h-1zM497 300h1v1h-1zM501 302h1v1h-1zM502 302h1v1h-1zM503 303h1v1h-1zM507 305h1v1h-1zM508 305h1v1h-1zM509 306h1v1h-1zM513 308h1v1h-1zM514 308h1v1h-1zM515 309h1v1h-1zM519 311h1v1h-1zM520 311h1v1h-1zM521 312h1v1h-1zM525 313h1v1h-1zM526 314h1v1h-1zM527 314h1v1h-1zM531 316h1v1h-1zM532 317h1v1h-1zM533 317h1v1h-1zM537 319h1v1h-1zM538 320h1v1h-1zM539 320h1v1h-1zM543 322h1v1h-1zM544 323h1v1h-1zM545 323h1v1h-1zM549 325h1v1h-1zM550 326h1v1h-1zM551 326h1v1h-1zM555 328h1v1h-1zM556 329h1v1h-1zM557 329h1v1h-1zM561 331h1v1h-1zM562 332h1v1h-1zM563 332h1v1h-1zM567 334h1v1h-1zM568 335h1v1h-1zM569 335h1v1h-1zM573 337h1v1h-1zM574 338h1v1h-1zM575 338h1v1h-1zM577 340h1v1h-1zM578 339h1v1h-1zM579 338h1v1h-1zM582 334h1v1h-1zM583 333h1v1h-1zM583 332h1v1h-1zM587 328h1v1h-1zM588 327h1v1h-1zM588 326h1v1h-1zM592 322h1v1h-1zM592 321h1v1h-1zM593 320h1v1h-1zM596 316h1v1h-1zM597 315h1v1h-1zM598 314h1v1h-1zM601 310h1v1h-1zM602 309h1v1h-1zM603 308h1v1h-1zM606 304h1v1h-1zM607 303h1v1h-1zM608 302h1v1h-1zM611 298h1v1h-1zM612 297h1v1h-1zM613 296h1v1h-1zM616 292h1v1h-1zM617 291h1v1h-1zM617 290h1v1h-1zM621 286h1v1h-1zM621 285h1v1h-1zM622 284h1v1h-1zM625 280h1v1h-1zM626 279h1v1h-1zM627 278h1v1h-1z" fill="#228b22"/>
<path d="M96 149h1v1h-1zM96 148h1v1h-1zM97 147h1v1h-1zM100 143h1v1h-1zM101 142h1v1h-1zM101 141h1v1h-1zM104 137h1v1h-1zM105 136h1v1h-1zM106 135h1v1h-1zM109 131h1v1h-1zM109 130h1v1h-1zM110 129h1v1h-1zM113 125h1v1h-1zM114 124h1v1h-1zM115 123h1v1h-1zM118 119h1v1h-1zM118 118h1v1h-1zM119 117h1v1h-1zM122 113h1v1h-1zM122 113h1v1h-1zM123 114h1v1h-1zM124 115h1v1h-1zM128 119h1v1h-1zM129 120h1v1h-1zM130 121h1v1h-1zM133 125h1v1h-1zM134 126h1v1h-1zM135 127h1v1h-1zM139 131h1v1h-1zM140 132h1v1h-1zM141 133h1v1h-1zM145 137h1v1h-1zM146 138h1v1h-1zM147 139h1v1h-1zM151 143h1v1h-1zM152 144h1v1h-1zM153 145h1v1h-1zM156 149h1v1h-1zM157 150h1v1h-1zM158 151h1v1h-1zM162 155h1v1h-1zM163 156h1v1h-1zM164 157h1v1h-1zM168 161h1v1h-1zM169 162h1v1h-1zM170 163h1v1h-1zM174 167h1v1h-1zM175 168h1v1h-1zM175 169h1v1h-1zM179 173h1v1h-1zM180 174h1v1h-1zM181 175h1v1h-1zM185 179h1v1h-1zM186 180h1v1h-1zM187 181h1v1h-1zM191 185h1v1h-1zM192 186h1v1h-1zM193 187h1v1h-1zM196 190h1v1h-1zM197 189h1v1h-1zM198 188h1v1h-1zM202 184h1v1h-1zM203 183h1v1h-1zM204 182h1v1h-1zM208 179h1v1h-1zM209 178h1v1h-1zM210 177h1v1h-1zM214 174h1v1h-1zM215 173h1v1h-1zM216 172h1v1h-1zM220 168h1v1h-1zM221 168h1v1h-1zM222 167h1v1h-1zM226 163h1v1h-1zM227 162h1v1h-1zM228 161h1v1h-1zM232 158h1v1h-1zM233 157h1v1h-1zM234 156h1v1h-1zM238 153h1v1h-1zM239 152h1v1h-1zM240 151h1v1h-1zM244 147h1v1h-1zM245 147h1v1h-1zM245 147h1v1h-1zM245 148h1v1h-1zM245 149h1v1h-1zM247 153h1v1h-1zM248 154h1v1h-1zM248 155h1v1h-1zM250 159h1v1h-1zM251 160h1v1h-1zM251 161h1v1h-1zM253 165h1v1h-1zM254 166h1v1h-1zM254 167h1v1h-1zM256 171h1v1h-1zM256 172h1v1h-1zM257 173h1v1h-1zM259 177h1v1h-1zM259 178h1v1h-1zM260 179h1v1h-1zM262 183h1v1h-1zM262 184h1v1h-1zM263 185h1v1h-1zM264 189h1v1h-1zM265 190h1v1h-1zM265 191h1v1h-1zM267 195h1v1h-1zM268 196h1v1h-1zM268 197h1v1h-1zM270 201h1v1h-1zM271 202h1v1h-1zM271 203h1v1h-1z" fill="#0000ff"/>
<path d="M270 218h1v1h-1zM270 217h1v1h-1zM271 216h1v1h-1zM275 212h1v1h-1zM276 211h1v1h-1zM277 210h1v1h-1zM281 206h1v1h-1zM282 205h1v1h-1zM283 204h1v1h-1zM287 200h1v1h-1zM288 199h1v1h-1zM289 198h1v1h-1zM293 194h1v1h-1zM294 193h1v1h-1zM295 192h1v1h-1zM298 188h1v1h-1zM299 187h1v1h-1zM300 186h1v1h-1zM304 182h1v1h-1zM305 181h1v1h-1zM306 180h1v1h-1zM310 176h1v1h-1zM311 175h1v1h-1zM312 174h1v1h-1zM316 170h1v1h-1zM317 169h1v1h-1zM318 168h1v1h-1zM321 164h1v1h-1zM322 163h1v1h-1zM323 162h1v1h-1zM327 158h1v1h-1zM328 157h1v1h-1zM329 156h1v1h-1zM333 152h1v1h-1zM334 151h1v1h-1zM335 150h1v1h-1zM339 146h1v1h-1zM340 145h1v1h-1zM341 144h1v1h-1zM345 140h1v1h-1zM345 139h1v1h-1zM346 138h1v1h-1zM350 134h1v1h-1zM351 133h1v1h-1zM352 132h1v1h-1zM356 128h1v1h-1zM357 127h1v1h-1zM358 126h1v1h-1zM358 126h1v1h-1zM359 126h1v1h-1zM360 127h1v1h-1zM364 131h1v1h-1zM365 132h1v1h-1zM366 133h1v1h-1zM370 137h1v1h-1zM371 138h1v1h-1zM372 139h1v1h-1zM376 142h1v1h-1zM377 143h1v1h-1zM378 144h1v1h-1zM382 148h1v1h-1zM383 149h1v1h-1zM384 150h1v1h-1zM388 154h1v1h-1zM389 155h1v1h-1zM390 156h1v1h-1zM394 159h1v1h-1zM395 160h1v1h-1zM396 161h1v1h-1zM400 165h1v1h-1zM401 166h1v1h-1zM402 167h1v1h-1zM406 171h1v1h-1zM407 172h1v1h-1zM408 173h1v1h-1zM412 176h1v1h-1zM413 177h1v1h-1zM414 178h1v1h-1zM418 182h1v1h-1zM419 183h1v1h-1zM420 184h1v1h-1zM424 188h1v1h-1zM425 189h1v1h-1zM426 189h1v1h-1zM430 193h1v1h-1zM431 194h1v1h-1zM432 195h1v1h-1zM436 199h1v1h-1zM437 200h1v1h-1zM438 201h1v1h-1zM442 205h1v1h-1zM443 205h1v1h-1zM444 206h1v1h-1zM448 210h1v1h-1zM449 211h1v1h-1zM450 212h1v1h-1zM454 216h1v1h-1zM455 217h1v1h-1zM456 218h1v1h-1zM460 221h1v1h-1zM461 222h1v1h-1zM462 223h1v1h-1zM466 227h1v1h-1zM467 228h1v1h-1zM468 229h1v1h-1zM472 233h1v1h-1zM473 234h1v1h-1zM474 235h1v1h-1zM478 238h1v1h-1zM479 239h1v1h-1zM480 240h1v1h-1zM484 244h1v1h-1zM485 245h1v1h-1zM486 246h1v1h-1zM490 250h1v1h-1zM491 251h1v1h-1zM492 252h1v1h-1zM496 255h1v1h-1zM497 256h1v1h-1zM498 257h1v1h-1zM502 261h1v1h-1zM503 262h1v1h-1zM504 263h1v1h-1zM508 267h1v1h-1zM509 268h1v1h-1zM510 269h1v1h-1zM514 272h1v1h-1zM515 273h1v1h-1zM516 274h1v1h-1zM520 278h1v1h-1zM521 279h1v1h-1zM522 280h1v1h-1zM526 284h1v1h-1zM527 285h1v1h-1zM528 285h1v1h-1zM532 289h1v1h-1zM533 290h1v1h-1zM534 291h1v1h-1zM538 295h1v1h-1zM539 296h1v1h-1zM540 297h1v1h-1zM544 301h1v1h-1zM545 301h1v1h-1zM546 302h1v1h-1zM550 306h1v1h-1zM551 307h1v1h-1zM552 308h1v1h-1zM556 312h1v1h-1zM557 313h1v1h-1zM558 314h1v1h-1zM562 317h1v1h-1zM563 318h1v1h-1zM564 319h1v1h-1zM568 323h1v1h-1zM569 324h1v1h-1zM570 325h1v1h-1z" fill="#a52a2a"/>
<path d="M386 220h1v1h-1zM387 219h1v1h-1zM388 218h1v1h-1zM392 216h1v1h-1zM393 215h1v1h-1zM394 215h1v1h-1zM398 212h1v1h-1zM399 212h1v1h-1zM400 211h1v1h-1zM404 209h1v1h-1zM405 208h1v1h-1zM406 208h1v1h-1zM410 205h1v1h-1zM411 205h1v1h-1zM412 204h1v1h-1zM416 202h1v1h-1zM417 201h1v1h-1zM418 201h1v1h-1zM422 198h1v1h-1zM423 198h1v1h-1zM424 197h1v1h-1zM428 195h1v1h-1zM429 194h1v1h-1zM430 194h1v1h-1zM434 191h1v1h-1zM435 191h1v1h-1zM436 190h1v1h-1zM440 188h1v1h-1zM441 187h1v1h-1zM442 187h1v1h-1zM446 184h1v1h-1zM447 184h1v1h-1zM448 183h1v1h-1zM451 182h1v1h-1zM451 183h1v1h-1zM452 184h1v1h-1zM454 188h1v1h-1zM454 189h1v1h-1zM455 190h1v1h-1zM457 194h1v1h-1zM457 195h1v1h-1zM458 196h1v1h-1zM460 200h1v1h-1zM460 201h1v1h-1zM461 202h1v1h-1zM463 206h1v1h-1zM463 207h1v1h-1zM464 208h1v1h-1zM466 212h1v1h-1zM466 213h1v1h-1zM467 214h1v1h-1zM469 218h1v1h-1zM469 219h1v1h-1zM470 220h1v1h-1zM472 224h1v1h-1zM472 225h1v1h-1zM473 226h1v1h-1zM475 230h1v1h-1zM475 231h1v1h-1zM476 232h1v1h-1zM478 236h1v1h-1zM478 237h1v1h-1zM479 238h1v1h-1zM481 242h1v1h-1zM482 243h1v1h-1zM482 244h1v1h-1zM484 248h1v1h-1zM485 249h1v1h-1zM485 250h1v1h-1zM487 254h1v1h-1zM488 255h1v1h-1zM488 256h1v1h-1zM490 260h1v1h-1zM491 261h1v1h-1zM491 262h1v1h-1zM493 266h1v1h-1zM494 267h1v1h-1zM494 268h1v1h-1zM496 272h1v1h-1zM497 273h1v1h-1zM497 274h1v1h-1zM499 278h1v1h-1zM500 279h1v1h-1zM500 280h1v1h-1zM502 284h1v1h-1zM503 285h1v1h-1zM503 286h1v1h-1zM505 290h1v1h-1zM506 291h1v1h-1zM506 292h1v1h-1zM508 294h1v1h-1zM508 293h1v1h-1zM509 292h1v1h-1zM513 288h1v1h-1zM513 287h1v1h-1zM514 286h1v1h-1zM518 282h1v1h-1zM518 281h1v1h-1zM519 280h1v1h-1zM523 276h1v1h-1zM523 275h1v1h-1zM524 274h1v1h-1zM528 270h1v1h-1zM528 269h1v1h-1zM529 268h1v1h-1zM533 264h1v1h-1zM533 263h1v1h-1zM534 262h1v1h-1zM538 258h1v1h-1zM538 257h1v1h-1zM539 256h1v1h-1zM543 252h1v1h-1zM543 252h1v1h-1zM543 253h1v1h-1zM544 254h1v1h-1zM546 258h1v1h-1zM546 259h1v1h-1zM547 260h1v1h-1zM549 264h1v1h-1zM549 265h1v1h-1zM550 266h1v1h-1zM552 270h1v1h-1zM552 271h1v1h-1zM553 272h1v1h-1zM555 276h1v1h-1zM555 277h1v1h-1zM556 278h1v1h-1zM558 282h1v1h-1zM558 283h1v1h-1zM559 284h1v1h-1zM561 288h1v1h-1zM561 289h1v1h-1zM562 290h1v1h-1zM564 294h1v1h-1zM564 295h1v1h-1zM565 296h1v1h-1zM567 300h1v1h-1zM567 301h1v1h-1zM568 302h1v1h-1zM570 306h1v1h-1zM570 307h1v1h-1zM571 308h1v1h-1zM573 312h1v1h-1zM573 313h1v1h-1zM574 314h1v1h-1z" fill="#0000ff"/>
<path d="M2 351h1v1h-1zM3 351h1v1h-1zM4 351h1v1h-1zM8 350h1v1h-1zM9 350h1v1h-1zM10 350h1v1h-1zM14 349h1v1h-1zM15 349h1v1h-1zM16 349h1v1h-1zM20 348h1v1h-1zM21 348h1v1h-1zM22 348h1v1h-1zM26 347h1v1h-1zM27 347h1v1h-1zM28 347h1v1h-1zM32 346h1v1h-1zM33 346h1v1h-1zM34 346h1v1h-1zM38 345h1v1h-1zM39 345h1v1h-1zM40 345h1v1h-1zM44 344h1v1h-1zM45 344h1v1h-1zM46 344h1v1h-1zM50 343h1v1h-1zM51 343h1v1h-1zM52 343h1v1h-1zM56 342h1v1h-1zM57 342h1v1h-1zM58 342h1v1h-1zM62 341h1v1h-1zM63 341h1v1h-1zM64 341h1v1h-1zM68 340h1v1h-1zM69 340h1v1h-1zM70 340h1v1h-1zM74 339h1v1h-1zM75 339h1v1h-1zM76 339h1v1h-1zM80 338h1v1h-1zM81 338h1v1h-1zM82 338h1v1h-1zM86 337h1v1h-1zM87 337h1v1h-1zM88 337h1v1h-1zM92 336h1v1h-1zM93 336h1v1h-1zM94 336h1v1h-1zM98 335h1v1h-1zM99 335h1v1h-1zM100 335h1v1h-1zM104 334h1v1h-1zM105 334h1v1h-1zM106 334h1v1h-1zM110 333h1v1h-1zM111 333h1v1h-1zM112 333h1v1h-1zM116 332h1v1h-1zM117 332h1v1h-1zM118 332h1v1h-1zM122 331h1v1h-1zM123 331h1v1h-1zM124 331h1v1h-1zM128 330h1v1h-1zM129 330h1v1h-1zM130 330h1v1h-1zM134 329h1v1h-1zM135 329h1v1h-1zM136 329h1v1h-1zM140 328h1v1h-1zM141 328h1v1h-1zM142 328h1v1h-1zM146 327h1v1h-1zM147 327h1v1h-1zM148 327h1v1h-1zM152 326h1v1h-1zM153 326h1v1h-1zM154 326h1v1h-1zM158 325h1v1h-1zM159 325h1v1h-1zM160 325h1v1h-1zM164 324h1v1h-1zM165 324h1v1h-1zM166 324h1v1h-1zM170 323h1v1h-1zM171 323h1v1h-1zM172 323h1v1h-1zM176 322h1v1h-1zM177 322h1v1h-1zM178 322h1v1h-1zM182 321h1v1h-1zM183 321h1v1h-1zM184 321h1v1h-1zM188 320h1v1h-1zM189 320h1v1h-1zM190 320h1v1h-1zM194 319h1v1h-1zM195 319h1v1h-1zM196 319h1v1h-1zM200 319h1v1h-1zM201 318h1v1h-1zM202 318h1v1h-1zM206 318h1v1h-1zM207 317h1v1h-1zM208 317h1v1h-1zM212 317h1v1h-1zM213 316h1v1h-1zM214 316h1v1h-1zM218 316h1v1h-1zM219 315h1v1h-1zM220 315h1v1h-1zM224 315h1v1h-1zM225 314h1v1h-1zM226 314h1v1h-1zM230 314h1v1h-1zM231 313h1v1h-1zM232 313h1v1h-1zM236 313h1v1h-1zM237 312h1v1h-1zM238 312h1v1h-1zM242 312h1v1h-1zM243 311h1v1h-1zM244 311h1v1h-1zM248 311h1v1h-1zM249 310h1v1h-1zM250 310h1v1h-1zM254 310h1v1h-1zM255 309h1v1h-1zM256 309h1v1h-1zM260 309h1v1h-1zM261 308h1v1h-1zM262 308h1v1h-1zM266 308h1v1h-1zM267 307h1v1h-1zM268 307h1v1h-1zM272 307h1v1h-1zM273 306h1v1h-1zM274 306h1v1h-1zM278 306h1v1h-1zM279 305h1v1h-1zM280 305h1v1h-1zM284 305h1v1h-1zM285 304h1v1h-1zM286 304h1v1h-1zM290 304h1v1h-1zM291 303h1v1h-1zM292 303h1v1h-1zM296 303h1v1h-1zM297 302h1v1h-1zM298 302h1v1h-1zM302 302h1v1h-1zM303 301h1v1h-1zM304 301h1v1h-1zM308 301h1v1h-1zM309 301h1v1h-1zM310 300h1v1h-1zM314 300h1v1h-1zM315 300h1v1h-1zM316 299h1v1h-1zM320 299h1v1h-1zM321 299h1v1h-1zM322 298h1v1h-1zM326 298h1v1h-1zM327 298h1v1h-1zM328 297h1v1h-1zM332 297h1v1h-1zM333 297h1v1h-1zM334 296h1v1h-1zM338 296h1v1h-1zM339 296h1v1h-1zM340 295h1v1h-1zM344 295h1v1h-1zM345 295h1v1h-1zM346 294h1v1h-1zM350 294h1v1h-1zM351 294h1v1h-1zM352 293h1v1h-1zM356 293h1v1h-1zM357 293h1v1h-1zM358 292h1v1h-1zM362 292h1v1h-1zM363 292h1v1h-1zM364 291h1v1h-1zM368 291h1v1h-1zM369 291h1v1h-1zM370 290h1v1h-1zM374 290h1v1h-1zM375 290h1v1h-1zM376 289h1v1h-1zM380 289h1v1h-1zM381 289h1v1h-1zM382 288h1v1h-1zM386 288h1v1h-1zM387 288h1v1h-1zM388 287h1v1h-1zM392 287h1v1h-1zM393 287h1v1h-1zM394 286h1v1h-1zM398 286h1v1h-1zM399 286h1v1h-1zM400 285h1v1h-1zM404 285h1v1h-1zM405 285h1v1h-1zM406 284h1v1h-1zM410 284h1v1h-1zM411 284h1v1h-1zM412 283h1v1h-1zM416 283h1v1h-1zM417 283h1v1h-1zM418 283h1v1h-1zM422 282h1v1h-1zM423 282h1v1h-1zM424 282h1v1h-1zM428 281h1v1h-1zM429 281h1v1h-1zM430 281h1v1h-1zM434 280h1v1h-1zM435 280h1v1h-1zM436 280h1v1h-1zM440 279h1v1h-1zM441 279h1v1h-1zM442 279h1v1h-1zM446 278h1v1h-1zM447 278h1v1h-1zM448 278h1v1h-1zM452 277h1v1h-1zM453 277h1v1h-1zM454 277h1v1h-1zM458 276h1v1h-1zM459 276h1v1h-1zM460 276h1v1h-1zM464 275h1v1h-1zM465 275h1v1h-1zM466 275h1v1h-1zM470 274h1v1h-1zM471 274h1v1h-1zM472 274h1v1h-1zM476 273h1v1h-1zM477 273h1v1h-1zM478 273h1v1h-1zM482 272h1v1h-1zM483 272h1v1h-1zM484 272h1v1h-1zM488 271h1v1h-1zM489 271h1v1h-1zM490 271h1v1h-1zM494 270h1v1h-1zM495 270h1v1h-1zM496 270h1v1h-1zM500 269h1v1h-1zM501 269h1v1h-1zM502 269h1v1h-1zM506 268h1v1h-1zM507 268h1v1h-1zM508 268h1v1h-1zM512 267h1v1h-1zM513 267h1v1h-1zM514 267h1v1h-1zM518 266h1v1h-1zM519 266h1v1h-1zM520 266h1v1h-1zM524 265h1v1h-1zM525 265h1v1h-1zM526 265h1v1h-1zM530 264h1v1h-1zM531 264h1v1h-1zM532 264h1v1h-1zM536 263h1v1h-1zM537 263h1v1h-1zM538 263h1v1h-1zM542 262h1v1h-1zM543 262h1v1h-1zM544 262h1v1h-1zM548 261h1v1h-1zM549 261h1v1h-1zM550 261h1v1h-1zM554 260h1v1h-1zM555 260h1v1h-1zM556 260h1v1h-1zM560 259h1v1h-1zM561 259h1v1h-1zM562 259h1v1h-1zM566 258h1v1h-1zM567 258h1v1h-1zM568 258h1v1h-1zM572 257h1v1h-1zM573 257h1v1h-1zM574 257h1v1h-1zM578 256h1v1h-1zM579 256h1v1h-1zM580 256h1v1h-1zM584 255h1v1h-1zM585 255h1v1h-1zM586 255h1v1h-1zM590 254h1v1h-1zM591 254h1v1h-1zM592 254h1v1h-1zM596 253h1v1h-1zM597 253h1v1h-1zM598 253h1v1h-1zM602 252h1v1h-1zM603 252h1v1h-1zM604 252h1v1h-1zM608 251h1v1h-1zM609 251h1v1h-1zM610 251h1v1h-1zM614 250h1v1h-1zM615 250h1v1h-1zM616 250h1v1h-1zM620 249h1v1h-1zM621 249h1v1h-1zM622 249h1v1h-1zM626 248h1v1h-1zM627 248h1v1h-1zM628 248h1v1h-1z" fill="#4b0082"/>
<text x="68.5" y="79.3" font-size="17" fill="#228b22" stroke="#228b22" stroke-width="0.15" text-anchor="middle">(1)</text>
<text x="34.5" y="104" font-size="16.6" fill="#ad2626" stroke="#ad2626" stroke-width="0.15" text-anchor="middle">3</text>
<text x="69.5" y="91" font-size="16.6" fill="#ad2626" stroke="#ad2626" stroke-width="0.15" text-anchor="middle">5</text>
<text x="50.25" y="169" font-size="16.6" fill="#ad2626" stroke="#ad2626" stroke-width="0.15" text-anchor="middle">4</text>
<text x="270" y="239" font-size="16.6" fill="#ad2626" stroke="#ad2626" stroke-width="0.15" text-anchor="middle">A</text>
<text x="357.9" y="116" font-size="16.6" fill="#ad2626" stroke="#ad2626" stroke-width="0.15" text-anchor="middle">B</text>
<text x="572.3" y="349" font-size="16.6" fill="#ad2626" stroke="#ad2626" stroke-width="0.15" text-anchor="middle">C</text>
<text x="577.5" y="362.3" font-size="17" fill="#228b22" stroke="#228b22" stroke-width="0.15" text-anchor="middle">(2)</text>
<circle cx="95" cy="164" r="9.5" fill="none" stroke="#0000ff" stroke-width="1"/>
<text x="95" y="171" font-size="16.6" fill="#0000ff" stroke="#0000ff" stroke-width="0.15" text-anchor="middle" letter-spacing="0.4">i</text>
<circle cx="122" cy="96" r="9.5" fill="none" stroke="#0000ff" stroke-width="1"/>
<text x="122" y="103" font-size="16.6" fill="#0000ff" stroke="#0000ff" stroke-width="0.15" text-anchor="middle" letter-spacing="0.4">ii</text>
<circle cx="194" cy="204" r="9.5" fill="none" stroke="#0000ff" stroke-width="1"/>
<text x="194" y="211" font-size="16.6" fill="#0000ff" stroke="#0000ff" stroke-width="0.15" text-anchor="middle" letter-spacing="0.4">iii</text>
<circle cx="242" cy="136" r="9.5" fill="none" stroke="#0000ff" stroke-width="1"/>
<text x="242" y="143" font-size="16.6" fill="#0000ff" stroke="#0000ff" stroke-width="0.15" text-anchor="middle" letter-spacing="0.4">iv</text>
<circle cx="271" cy="220" r="9.5" fill="none" stroke="#0000ff" stroke-width="1"/>
<text x="271" y="227" font-size="16.6" fill="#0000ff" stroke="#0000ff" stroke-width="0.15" text-anchor="middle" letter-spacing="0.4">v</text>
<circle cx="385" cy="236" r="9.5" fill="none" stroke="#0000ff" stroke-width="1"/>
<text x="385" y="243" font-size="16.6" fill="#0000ff" stroke="#0000ff" stroke-width="0.15" text-anchor="middle" letter-spacing="0.4">i</text>
<circle cx="451" cy="166" r="9.5" fill="none" stroke="#0000ff" stroke-width="1"/>
<text x="451" y="173" font-size="16.6" fill="#0000ff" stroke="#0000ff" stroke-width="0.15" text-anchor="middle" letter-spacing="0.4">ii</text>
<circle cx="507" cy="312" r="9.5" fill="none" stroke="#0000ff" stroke-width="1"/>
<text x="507" y="319" font-size="16.6" fill="#0000ff" stroke="#0000ff" stroke-width="0.15" text-anchor="middle" letter-spacing="0.4">iii</text>
<circle cx="541" cy="235" r="9.5" fill="none" stroke="#0000ff" stroke-width="1"/>
<text x="541" y="242" font-size="16.6" fill="#0000ff" stroke="#0000ff" stroke-width="0.15" text-anchor="middle" letter-spacing="0.4">iv</text>
<circle cx="575" cy="328" r="9.5" fill="none" stroke="#0000ff" stroke-width="1"/>
<text x="575" y="335" font-size="16.6" fill="#0000ff" stroke="#0000ff" stroke-width="0.15" text-anchor="middle" letter-spacing="0.4">v</text>
<text x="628.5" y="97" font-size="12.5" fill="#228b22" stroke="#228b22" stroke-width="0.25" text-anchor="end" letter-spacing="0.05">0.0</text>
<text x="628.5" y="158" font-size="12.5" fill="#228b22" stroke="#228b22" stroke-width="0.25" text-anchor="end" letter-spacing="0.05">23.6</text>
<text x="628.5" y="196" font-size="12.5" fill="#228b22" stroke="#228b22" stroke-width="0.25" text-anchor="end" letter-spacing="0.05">38.2</text>
<text x="628.5" y="227" font-size="12.5" fill="#228b22" stroke="#228b22" stroke-width="0.25" text-anchor="end" letter-spacing="0.05">50.0</text>
<text x="628.5" y="258" font-size="12.5" fill="#228b22" stroke="#228b22" stroke-width="0.25" text-anchor="end" letter-spacing="0.05">61.8</text>
<text x="628.5" y="295" font-size="12.5" fill="#228b22" stroke="#228b22" stroke-width="0.25" text-anchor="end" letter-spacing="0.05">76.0</text>
<text x="628.5" y="357" font-size="12.5" fill="#228b22" stroke="#228b22" stroke-width="0.25" text-anchor="end" letter-spacing="0.05">100.0</text>
<g>
<rect x="3" y="409" width="1" height="14" fill="#800080"/>
<rect x="4" y="408" width="1" height="15" fill="#800080"/>
<rect x="5" y="408" width="1" height="15" fill="#800080"/>
<rect x="6" y="408" width="1" height="15" fill="#800080"/>
<rect x="7" y="405" width="1" height="18" fill="#800080"/>
<rect x="8" y="407" width="1" height="16" fill="#800080"/>
<rect x="9" y="406" width="1" height="17" fill="#800080"/>
<rect x="10" y="404" width="1" height="19" fill="#800080"/>
<rect x="11" y="405" width="1" height="18" fill="#800080"/>
<rect x="12" y="403" width="1" height="20" fill="#800080"/>
<rect x="13" y="403" width="1" height="20" fill="#800080"/>
<rect x="14" y="402" width="1" height="21" fill="#800080"/>
<rect x="15" y="402" width="1" height="21" fill="#800080"/>
<rect x="16" y="400" width="1" height="23" fill="#800080"/>
<rect x="17" y="399" width="1" height="24" fill="#800080"/>
<rect x="18" y="399" width="1" height="24" fill="#800080"/>
<rect x="19" y="398" width="1" height="25" fill="#800080"/>
<rect x="20" y="398" width="1" height="25" fill="#800080"/>
<rect x="21" y="398" width="1" height="25" fill="#800080"/>
<rect x="22" y="398" width="1" height="25" fill="#800080"/>
<rect x="23" y="398" width="1" height="25" fill="#800080"/>
<rect x="24" y="398" width="1" height="25" fill="#800080"/>
<rect x="25" y="398" width="1" height="25" fill="#800080"/>
<rect x="26" y="398" width="1" height="25" fill="#800080"/>
<rect x="27" y="399" width="1" height="24" fill="#800080"/>
<rect x="28" y="398" width="1" height="25" fill="#800080"/>
<rect x="29" y="399" width="1" height="24" fill="#800080"/>
<rect x="30" y="398" width="1" height="25" fill="#800080"/>
<rect x="31" y="398" width="1" height="25" fill="#800080"/>
<rect x="32" y="397" width="1" height="26" fill="#800080"/>
<rect x="33" y="398" width="1" height="25" fill="#800080"/>
<rect x="34" y="398" width="1" height="25" fill="#800080"/>
<rect x="35" y="398" width="1" height="25" fill="#800080"/>
<rect x="36" y="398" width="1" height="25" fill="#800080"/>
<rect x="37" y="398" width="1" height="25" fill="#800080"/>
<rect x="38" y="398" width="1" height="25" fill="#800080"/>
<rect x="39" y="397" width="1" height="26" fill="#800080"/>
<rect x="40" y="398" width="1" height="25" fill="#800080"/>
<rect x="41" y="399" width="1" height="24" fill="#800080"/>
<rect x="42" y="399" width="1" height="24" fill="#800080"/>
<rect x="43" y="400" width="1" height="23" fill="#800080"/>
<rect x="44" y="401" width="1" height="22" fill="#800080"/>
<rect x="45" y="402" width="1" height="21" fill="#800080"/>
<rect x="46" y="404" width="1" height="19" fill="#800080"/>
<rect x="47" y="406" width="1" height="17" fill="#800080"/>
<rect x="48" y="409" width="1" height="14" fill="#800080"/>
<rect x="49" y="410" width="1" height="13" fill="#800080"/>
<rect x="50" y="412" width="1" height="11" fill="#800080"/>
<rect x="51" y="415" width="1" height="8" fill="#800080"/>
<rect x="52" y="417" width="1" height="6" fill="#800080"/>
<rect x="53" y="419" width="1" height="4" fill="#800080"/>
<rect x="54" y="422" width="1" height="1" fill="#800080"/>
<rect x="55" y="422" width="1" height="1" fill="#800080"/>
<rect x="56" y="422" width="1" height="1" fill="#800080"/>
<rect x="57" y="421" width="1" height="2" fill="#800080"/>
<rect x="58" y="420" width="1" height="3" fill="#800080"/>
<rect x="59" y="418" width="1" height="5" fill="#800080"/>
<rect x="60" y="416" width="1" height="7" fill="#800080"/>
<rect x="61" y="414" width="1" height="9" fill="#800080"/>
<rect x="62" y="413" width="1" height="10" fill="#800080"/>
<rect x="63" y="411" width="1" height="12" fill="#800080"/>
<rect x="64" y="409" width="1" height="14" fill="#800080"/>
<rect x="65" y="407" width="1" height="16" fill="#800080"/>
<rect x="66" y="404" width="1" height="19" fill="#800080"/>
<rect x="67" y="402" width="1" height="21" fill="#800080"/>
<rect x="68" y="400" width="1" height="23" fill="#800080"/>
<rect x="69" y="398" width="1" height="25" fill="#800080"/>
<rect x="70" y="399" width="1" height="24" fill="#800080"/>
<rect x="71" y="400" width="1" height="23" fill="#800080"/>
<rect x="72" y="404" width="1" height="19" fill="#800080"/>
<rect x="73" y="407" width="1" height="16" fill="#800080"/>
<rect x="74" y="411" width="1" height="12" fill="#800080"/>
<rect x="75" y="415" width="1" height="8" fill="#800080"/>
<rect x="76" y="418" width="1" height="5" fill="#800080"/>
<rect x="77" y="421" width="1" height="2" fill="#800080"/>
<rect x="78" y="422" width="1" height="1" fill="#800080"/>
<rect x="79" y="422" width="1" height="1" fill="#800080"/>
<rect x="80" y="422" width="1" height="1" fill="#800080"/>
<rect x="81" y="422" width="1" height="1" fill="#800080"/>
<rect x="82" y="422" width="1" height="1" fill="#800080"/>
<rect x="83" y="422" width="1" height="1" fill="#800080"/>
<rect x="84" y="420" width="1" height="3" fill="#800080"/>
<rect x="85" y="419" width="1" height="4" fill="#800080"/>
<rect x="86" y="421" width="1" height="2" fill="#800080"/>
<rect x="87" y="422" width="1" height="1" fill="#800080"/>
<rect x="88" y="424" width="1" height="2" fill="#800080"/>
<rect x="89" y="424" width="1" height="3" fill="#800080"/>
<rect x="90" y="424" width="1" height="7" fill="#800080"/>
<rect x="91" y="424" width="1" height="8" fill="#800080"/>
<rect x="92" y="424" width="1" height="9" fill="#800080"/>
<rect x="93" y="424" width="1" height="11" fill="#800080"/>
<rect x="94" y="424" width="1" height="12" fill="#800080"/>
<rect x="95" y="424" width="1" height="12" fill="#800080"/>
<rect x="96" y="424" width="1" height="12" fill="#800080"/>
<rect x="97" y="424" width="1" height="10" fill="#800080"/>
<rect x="98" y="424" width="1" height="11" fill="#800080"/>
<rect x="99" y="424" width="1" height="9" fill="#800080"/>
<rect x="100" y="424" width="1" height="8" fill="#800080"/>
<rect x="101" y="424" width="1" height="8" fill="#800080"/>
<rect x="102" y="424" width="1" height="5" fill="#800080"/>
<rect x="103" y="424" width="1" height="4" fill="#800080"/>
<rect x="104" y="424" width="1" height="1" fill="#800080"/>
<rect x="105" y="422" width="1" height="1" fill="#800080"/>
<rect x="106" y="422" width="1" height="1" fill="#800080"/>
<rect x="107" y="419" width="1" height="4" fill="#800080"/>
<rect x="108" y="418" width="1" height="5" fill="#800080"/>
<rect x="109" y="418" width="1" height="5" fill="#800080"/>
<rect x="110" y="417" width="1" height="6" fill="#800080"/>
<rect x="111" y="416" width="1" height="7" fill="#800080"/>
<rect x="112" y="415" width="1" height="8" fill="#800080"/>
<rect x="113" y="415" width="1" height="8" fill="#800080"/>
<rect x="114" y="413" width="1" height="10" fill="#800080"/>
<rect x="115" y="415" width="1" height="8" fill="#800080"/>
<rect x="116" y="414" width="1" height="9" fill="#800080"/>
<rect x="117" y="415" width="1" height="8" fill="#800080"/>
<rect x="118" y="415" width="1" height="8" fill="#800080"/>
<rect x="119" y="416" width="1" height="7" fill="#800080"/>
<rect x="120" y="415" width="1" height="8" fill="#800080"/>
<rect x="121" y="413" width="1" height="10" fill="#800080"/>
<rect x="122" y="411" width="1" height="12" fill="#800080"/>
<rect x="123" y="411" width="1" height="12" fill="#800080"/>
<rect x="124" y="414" width="1" height="9" fill="#800080"/>
<rect x="125" y="416" width="1" height="7" fill="#800080"/>
<rect x="126" y="417" width="1" height="6" fill="#800080"/>
<rect x="127" y="418" width="1" height="5" fill="#800080"/>
<rect x="128" y="417" width="1" height="6" fill="#800080"/>
<rect x="129" y="419" width="1" height="4" fill="#800080"/>
<rect x="130" y="420" width="1" height="3" fill="#800080"/>
<rect x="131" y="420" width="1" height="3" fill="#800080"/>
<rect x="132" y="421" width="1" height="2" fill="#800080"/>
<rect x="133" y="421" width="1" height="2" fill="#800080"/>
<rect x="134" y="421" width="1" height="2" fill="#800080"/>
<rect x="135" y="422" width="1" height="1" fill="#800080"/>
<rect x="136" y="422" width="1" height="1" fill="#800080"/>
<rect x="137" y="422" width="1" height="1" fill="#800080"/>
<rect x="138" y="422" width="1" height="1" fill="#800080"/>
<rect x="139" y="424" width="1" height="1" fill="#800080"/>
<rect x="140" y="422" width="1" height="1" fill="#800080"/>
<rect x="141" y="424" width="1" height="1" fill="#800080"/>
<rect x="142" y="424" width="1" height="1" fill="#800080"/>
<rect x="143" y="424" width="1" height="1" fill="#800080"/>
<rect x="144" y="424" width="1" height="1" fill="#800080"/>
<rect x="145" y="424" width="1" height="2" fill="#800080"/>
<rect x="146" y="424" width="1" height="2" fill="#800080"/>
<rect x="147" y="424" width="1" height="2" fill="#800080"/>
<rect x="148" y="424" width="1" height="2" fill="#800080"/>
<rect x="149" y="424" width="1" height="5" fill="#800080"/>
<rect x="150" y="424" width="1" height="8" fill="#800080"/>
<rect x="151" y="424" width="1" height="13" fill="#800080"/>
<rect x="152" y="424" width="1" height="15" fill="#800080"/>
<rect x="153" y="424" width="1" height="18" fill="#800080"/>
<rect x="154" y="424" width="1" height="18" fill="#800080"/>
<rect x="155" y="424" width="1" height="17" fill="#800080"/>
<rect x="156" y="424" width="1" height="19" fill="#800080"/>
<rect x="157" y="424" width="1" height="19" fill="#800080"/>
<rect x="158" y="424" width="1" height="19" fill="#800080"/>
<rect x="159" y="424" width="1" height="18" fill="#800080"/>
<rect x="160" y="424" width="1" height="19" fill="#800080"/>
<rect x="161" y="424" width="1" height="20" fill="#800080"/>
<rect x="162" y="424" width="1" height="19" fill="#800080"/>
<rect x="163" y="424" width="1" height="18" fill="#800080"/>
<rect x="164" y="424" width="1" height="20" fill="#800080"/>
<rect x="165" y="424" width="1" height="20" fill="#800080"/>
<rect x="166" y="424" width="1" height="21" fill="#800080"/>
<rect x="167" y="424" width="1" height="22" fill="#800080"/>
<rect x="168" y="424" width="1" height="22" fill="#800080"/>
<rect x="169" y="424" width="1" height="22" fill="#800080"/>
<rect x="170" y="424" width="1" height="24" fill="#800080"/>
<rect x="171" y="424" width="1" height="23" fill="#800080"/>
<rect x="172" y="424" width="1" height="25" fill="#800080"/>
<rect x="173" y="424" width="1" height="24" fill="#800080"/>
<rect x="174" y="424" width="1" height="24" fill="#800080"/>
<rect x="175" y="424" width="1" height="25" fill="#800080"/>
<rect x="176" y="424" width="1" height="24" fill="#800080"/>
<rect x="177" y="424" width="1" height="22" fill="#800080"/>
<rect x="178" y="424" width="1" height="22" fill="#800080"/>
<rect x="179" y="424" width="1" height="20" fill="#800080"/>
<rect x="180" y="424" width="1" height="20" fill="#800080"/>
<rect x="181" y="424" width="1" height="20" fill="#800080"/>
<rect x="182" y="424" width="1" height="19" fill="#800080"/>
<rect x="183" y="424" width="1" height="17" fill="#800080"/>
<rect x="184" y="424" width="1" height="18" fill="#800080"/>
<rect x="185" y="424" width="1" height="17" fill="#800080"/>
<rect x="186" y="424" width="1" height="16" fill="#800080"/>
<rect x="187" y="424" width="1" height="14" fill="#800080"/>
<rect x="188" y="424" width="1" height="15" fill="#800080"/>
<rect x="189" y="424" width="1" height="17" fill="#800080"/>
<rect x="190" y="424" width="1" height="18" fill="#800080"/>
<rect x="191" y="424" width="1" height="20" fill="#800080"/>
<rect x="192" y="424" width="1" height="20" fill="#800080"/>
<rect x="193" y="424" width="1" height="21" fill="#800080"/>
<rect x="194" y="424" width="1" height="22" fill="#800080"/>
<rect x="195" y="424" width="1" height="24" fill="#800080"/>
<rect x="196" y="424" width="1" height="24" fill="#800080"/>
<rect x="197" y="424" width="1" height="26" fill="#800080"/>
<rect x="198" y="424" width="1" height="23" fill="#800080"/>
<rect x="199" y="424" width="1" height="21" fill="#800080"/>
<rect x="200" y="424" width="1" height="16" fill="#800080"/>
<rect x="201" y="424" width="1" height="13" fill="#800080"/>
<rect x="202" y="424" width="1" height="9" fill="#800080"/>
<rect x="203" y="424" width="1" height="3" fill="#800080"/>
<rect x="204" y="422" width="1" height="1" fill="#800080"/>
<rect x="205" y="421" width="1" height="2" fill="#800080"/>
<rect x="206" y="419" width="1" height="4" fill="#800080"/>
<rect x="207" y="416" width="1" height="7" fill="#800080"/>
<rect x="208" y="417" width="1" height="6" fill="#800080"/>
<rect x="209" y="418" width="1" height="5" fill="#800080"/>
<rect x="210" y="421" width="1" height="2" fill="#800080"/>
<rect x="211" y="421" width="1" height="2" fill="#800080"/>
<rect x="212" y="421" width="1" height="2" fill="#800080"/>
<rect x="213" y="422" width="1" height="1" fill="#800080"/>
<rect x="214" y="422" width="1" height="1" fill="#800080"/>
<rect x="215" y="424" width="1" height="1" fill="#800080"/>
<rect x="216" y="424" width="1" height="5" fill="#800080"/>
<rect x="217" y="424" width="1" height="7" fill="#800080"/>
<rect x="218" y="424" width="1" height="9" fill="#800080"/>
<rect x="219" y="424" width="1" height="10" fill="#800080"/>
<rect x="220" y="424" width="1" height="10" fill="#800080"/>
<rect x="221" y="424" width="1" height="12" fill="#800080"/>
<rect x="222" y="424" width="1" height="11" fill="#800080"/>
<rect x="223" y="424" width="1" height="11" fill="#800080"/>
<rect x="224" y="424" width="1" height="11" fill="#800080"/>
<rect x="225" y="424" width="1" height="11" fill="#800080"/>
<rect x="226" y="424" width="1" height="10" fill="#800080"/>
<rect x="227" y="424" width="1" height="6" fill="#800080"/>
<rect x="228" y="424" width="1" height="6" fill="#800080"/>
<rect x="229" y="424" width="1" height="5" fill="#800080"/>
<rect x="230" y="424" width="1" height="3" fill="#800080"/>
<rect x="231" y="424" width="1" height="2" fill="#800080"/>
<rect x="232" y="424" width="1" height="1" fill="#800080"/>
<rect x="233" y="421" width="1" height="2" fill="#800080"/>
<rect x="234" y="418" width="1" height="5" fill="#800080"/>
<rect x="235" y="415" width="1" height="8" fill="#800080"/>
<rect x="236" y="412" width="1" height="11" fill="#800080"/>
<rect x="237" y="410" width="1" height="13" fill="#800080"/>
<rect x="238" y="409" width="1" height="14" fill="#800080"/>
<rect x="239" y="407" width="1" height="16" fill="#800080"/>
<rect x="240" y="405" width="1" height="18" fill="#800080"/>
<rect x="241" y="406" width="1" height="17" fill="#800080"/>
<rect x="242" y="405" width="1" height="18" fill="#800080"/>
<rect x="243" y="405" width="1" height="18" fill="#800080"/>
<rect x="244" y="404" width="1" height="19" fill="#800080"/>
<rect x="245" y="404" width="1" height="19" fill="#800080"/>
<rect x="246" y="405" width="1" height="18" fill="#800080"/>
<rect x="247" y="407" width="1" height="16" fill="#800080"/>
<rect x="248" y="409" width="1" height="14" fill="#800080"/>
<rect x="249" y="411" width="1" height="12" fill="#800080"/>
<rect x="250" y="413" width="1" height="10" fill="#800080"/>
<rect x="251" y="415" width="1" height="8" fill="#800080"/>
<rect x="252" y="417" width="1" height="6" fill="#800080"/>
<rect x="253" y="419" width="1" height="4" fill="#800080"/>
<rect x="254" y="422" width="1" height="1" fill="#800080"/>
<rect x="255" y="424" width="1" height="1" fill="#800080"/>
<rect x="256" y="424" width="1" height="2" fill="#800080"/>
<rect x="257" y="424" width="1" height="3" fill="#800080"/>
<rect x="258" y="424" width="1" height="6" fill="#800080"/>
<rect x="259" y="424" width="1" height="8" fill="#800080"/>
<rect x="260" y="424" width="1" height="11" fill="#800080"/>
<rect x="261" y="424" width="1" height="12" fill="#800080"/>
<rect x="262" y="424" width="1" height="14" fill="#800080"/>
<rect x="263" y="424" width="1" height="16" fill="#800080"/>
<rect x="264" y="424" width="1" height="16" fill="#800080"/>
<rect x="265" y="424" width="1" height="18" fill="#800080"/>
<rect x="266" y="424" width="1" height="20" fill="#800080"/>
<rect x="267" y="424" width="1" height="21" fill="#800080"/>
<rect x="268" y="424" width="1" height="22" fill="#800080"/>
<rect x="269" y="424" width="1" height="23" fill="#800080"/>
<rect x="270" y="424" width="1" height="24" fill="#800080"/>
<rect x="271" y="424" width="1" height="24" fill="#800080"/>
<rect x="272" y="424" width="1" height="26" fill="#800080"/>
<rect x="273" y="424" width="1" height="25" fill="#800080"/>
<rect x="274" y="424" width="1" height="23" fill="#800080"/>
<rect x="275" y="424" width="1" height="21" fill="#800080"/>
<rect x="276" y="424" width="1" height="18" fill="#800080"/>
<rect x="277" y="424" width="1" height="16" fill="#800080"/>
<rect x="278" y="424" width="1" height="14" fill="#800080"/>
<rect x="279" y="424" width="1" height="10" fill="#800080"/>
<rect x="280" y="424" width="1" height="9" fill="#800080"/>
<rect x="281" y="424" width="1" height="6" fill="#800080"/>
<rect x="282" y="424" width="1" height="4" fill="#800080"/>
<rect x="283" y="424" width="1" height="1" fill="#800080"/>
<rect x="284" y="424" width="1" height="1" fill="#800080"/>
<rect x="285" y="422" width="1" height="1" fill="#800080"/>
<rect x="286" y="422" width="1" height="1" fill="#800080"/>
<rect x="287" y="421" width="1" height="2" fill="#800080"/>
<rect x="288" y="421" width="1" height="2" fill="#800080"/>
<rect x="289" y="419" width="1" height="4" fill="#800080"/>
<rect x="290" y="419" width="1" height="4" fill="#800080"/>
<rect x="291" y="419" width="1" height="4" fill="#800080"/>
<rect x="292" y="420" width="1" height="3" fill="#800080"/>
<rect x="293" y="421" width="1" height="2" fill="#800080"/>
<rect x="294" y="422" width="1" height="1" fill="#800080"/>
<rect x="295" y="421" width="1" height="2" fill="#800080"/>
<rect x="296" y="421" width="1" height="2" fill="#800080"/>
<rect x="297" y="421" width="1" height="2" fill="#800080"/>
<rect x="298" y="421" width="1" height="2" fill="#800080"/>
<rect x="299" y="420" width="1" height="3" fill="#800080"/>
<rect x="300" y="419" width="1" height="4" fill="#800080"/>
<rect x="301" y="420" width="1" height="3" fill="#800080"/>
<rect x="302" y="421" width="1" height="2" fill="#800080"/>
<rect x="303" y="422" width="1" height="1" fill="#800080"/>
<rect x="304" y="424" width="1" height="1" fill="#800080"/>
<rect x="305" y="424" width="1" height="1" fill="#800080"/>
<rect x="306" y="424" width="1" height="3" fill="#800080"/>
<rect x="307" y="424" width="1" height="5" fill="#800080"/>
<rect x="308" y="424" width="1" height="7" fill="#800080"/>
<rect x="309" y="424" width="1" height="8" fill="#800080"/>
<rect x="310" y="424" width="1" height="11" fill="#800080"/>
<rect x="311" y="424" width="1" height="13" fill="#800080"/>
<rect x="312" y="424" width="1" height="12" fill="#800080"/>
<rect x="313" y="424" width="1" height="11" fill="#800080"/>
<rect x="314" y="424" width="1" height="11" fill="#800080"/>
<rect x="315" y="424" width="1" height="9" fill="#800080"/>
<rect x="316" y="424" width="1" height="10" fill="#800080"/>
<rect x="317" y="424" width="1" height="8" fill="#800080"/>
<rect x="318" y="424" width="1" height="8" fill="#800080"/>
<rect x="319" y="424" width="1" height="5" fill="#800080"/>
<rect x="320" y="424" width="1" height="4" fill="#800080"/>
<rect x="321" y="424" width="1" height="3" fill="#800080"/>
<rect x="322" y="424" width="1" height="2" fill="#800080"/>
<rect x="323" y="424" width="1" height="1" fill="#800080"/>
<rect x="324" y="424" width="1" height="1" fill="#800080"/>
<rect x="325" y="424" width="1" height="1" fill="#800080"/>
<rect x="326" y="422" width="1" height="1" fill="#800080"/>
<rect x="327" y="422" width="1" height="1" fill="#800080"/>
<rect x="328" y="422" width="1" height="1" fill="#800080"/>
<rect x="329" y="420" width="1" height="3" fill="#800080"/>
<rect x="330" y="418" width="1" height="5" fill="#800080"/>
<rect x="331" y="417" width="1" height="6" fill="#800080"/>
<rect x="332" y="415" width="1" height="8" fill="#800080"/>
<rect x="333" y="412" width="1" height="11" fill="#800080"/>
<rect x="334" y="411" width="1" height="12" fill="#800080"/>
<rect x="335" y="409" width="1" height="14" fill="#800080"/>
<rect x="336" y="408" width="1" height="15" fill="#800080"/>
<rect x="337" y="404" width="1" height="19" fill="#800080"/>
<rect x="338" y="408" width="1" height="15" fill="#800080"/>
<rect x="339" y="409" width="1" height="14" fill="#800080"/>
<rect x="340" y="412" width="1" height="11" fill="#800080"/>
<rect x="341" y="413" width="1" height="10" fill="#800080"/>
<rect x="342" y="414" width="1" height="9" fill="#800080"/>
<rect x="343" y="415" width="1" height="8" fill="#800080"/>
<rect x="344" y="416" width="1" height="7" fill="#800080"/>
<rect x="345" y="412" width="1" height="11" fill="#800080"/>
<rect x="346" y="410" width="1" height="13" fill="#800080"/>
<rect x="347" y="407" width="1" height="16" fill="#800080"/>
<rect x="348" y="404" width="1" height="19" fill="#800080"/>
<rect x="349" y="400" width="1" height="23" fill="#800080"/>
<rect x="350" y="398" width="1" height="25" fill="#800080"/>
<rect x="351" y="395" width="1" height="28" fill="#800080"/>
<rect x="352" y="395" width="1" height="28" fill="#800080"/>
<rect x="353" y="395" width="1" height="28" fill="#800080"/>
<rect x="354" y="396" width="1" height="27" fill="#800080"/>
<rect x="355" y="396" width="1" height="27" fill="#800080"/>
<rect x="356" y="397" width="1" height="26" fill="#800080"/>
<rect x="357" y="396" width="1" height="27" fill="#800080"/>
<rect x="358" y="397" width="1" height="26" fill="#800080"/>
<rect x="359" y="398" width="1" height="25" fill="#800080"/>
<rect x="360" y="401" width="1" height="22" fill="#800080"/>
<rect x="361" y="406" width="1" height="17" fill="#800080"/>
<rect x="362" y="407" width="1" height="16" fill="#800080"/>
<rect x="363" y="410" width="1" height="13" fill="#800080"/>
<rect x="364" y="413" width="1" height="10" fill="#800080"/>
<rect x="365" y="416" width="1" height="7" fill="#800080"/>
<rect x="366" y="418" width="1" height="5" fill="#800080"/>
<rect x="367" y="420" width="1" height="3" fill="#800080"/>
<rect x="368" y="422" width="1" height="1" fill="#800080"/>
<rect x="369" y="424" width="1" height="3" fill="#800080"/>
<rect x="370" y="424" width="1" height="9" fill="#800080"/>
<rect x="371" y="424" width="1" height="13" fill="#800080"/>
<rect x="372" y="424" width="1" height="16" fill="#800080"/>
<rect x="373" y="424" width="1" height="21" fill="#800080"/>
<rect x="374" y="424" width="1" height="24" fill="#800080"/>
<rect x="375" y="424" width="1" height="28" fill="#800080"/>
<rect x="376" y="424" width="1" height="29" fill="#800080"/>
<rect x="377" y="424" width="1" height="31" fill="#800080"/>
<rect x="378" y="424" width="1" height="32" fill="#800080"/>
<rect x="379" y="424" width="1" height="33" fill="#800080"/>
<rect x="380" y="424" width="1" height="29" fill="#800080"/>
<rect x="381" y="424" width="1" height="26" fill="#800080"/>
<rect x="382" y="424" width="1" height="29" fill="#800080"/>
<rect x="383" y="424" width="1" height="32" fill="#800080"/>
<rect x="384" y="424" width="1" height="35" fill="#800080"/>
<rect x="385" y="424" width="1" height="38" fill="#800080"/>
<rect x="386" y="424" width="1" height="41" fill="#800080"/>
<rect x="387" y="424" width="1" height="38" fill="#800080"/>
<rect x="388" y="424" width="1" height="34" fill="#800080"/>
<rect x="389" y="424" width="1" height="31" fill="#800080"/>
<rect x="390" y="424" width="1" height="27" fill="#800080"/>
<rect x="391" y="424" width="1" height="24" fill="#800080"/>
<rect x="392" y="424" width="1" height="19" fill="#800080"/>
<rect x="393" y="424" width="1" height="16" fill="#800080"/>
<rect x="394" y="424" width="1" height="12" fill="#800080"/>
<rect x="395" y="424" width="1" height="9" fill="#800080"/>
<rect x="396" y="424" width="1" height="6" fill="#800080"/>
<rect x="397" y="424" width="1" height="4" fill="#800080"/>
<rect x="398" y="424" width="1" height="1" fill="#800080"/>
<rect x="399" y="422" width="1" height="1" fill="#800080"/>
<rect x="400" y="420" width="1" height="3" fill="#800080"/>
<rect x="401" y="418" width="1" height="5" fill="#800080"/>
<rect x="402" y="416" width="1" height="7" fill="#800080"/>
<rect x="403" y="416" width="1" height="7" fill="#800080"/>
<rect x="404" y="417" width="1" height="6" fill="#800080"/>
<rect x="405" y="419" width="1" height="4" fill="#800080"/>
<rect x="406" y="421" width="1" height="2" fill="#800080"/>
<rect x="407" y="424" width="1" height="1" fill="#800080"/>
<rect x="408" y="424" width="1" height="4" fill="#800080"/>
<rect x="409" y="424" width="1" height="9" fill="#800080"/>
<rect x="410" y="424" width="1" height="14" fill="#800080"/>
<rect x="411" y="424" width="1" height="14" fill="#800080"/>
<rect x="412" y="424" width="1" height="15" fill="#800080"/>
<rect x="413" y="424" width="1" height="16" fill="#800080"/>
<rect x="414" y="424" width="1" height="17" fill="#800080"/>
<rect x="415" y="424" width="1" height="18" fill="#800080"/>
<rect x="416" y="424" width="1" height="18" fill="#800080"/>
<rect x="417" y="424" width="1" height="19" fill="#800080"/>
<rect x="418" y="424" width="1" height="20" fill="#800080"/>
<rect x="419" y="424" width="1" height="21" fill="#800080"/>
<rect x="420" y="424" width="1" height="20" fill="#800080"/>
<rect x="421" y="424" width="1" height="22" fill="#800080"/>
<rect x="422" y="424" width="1" height="21" fill="#800080"/>
<rect x="423" y="424" width="1" height="22" fill="#800080"/>
<rect x="424" y="424" width="1" height="22" fill="#800080"/>
<rect x="425" y="424" width="1" height="23" fill="#800080"/>
<rect x="426" y="424" width="1" height="24" fill="#800080"/>
<rect x="427" y="424" width="1" height="25" fill="#800080"/>
<rect x="428" y="424" width="1" height="26" fill="#800080"/>
<rect x="429" y="424" width="1" height="25" fill="#800080"/>
<rect x="430" y="424" width="1" height="25" fill="#800080"/>
<rect x="431" y="424" width="1" height="23" fill="#800080"/>
<rect x="432" y="424" width="1" height="21" fill="#800080"/>
<rect x="433" y="424" width="1" height="17" fill="#800080"/>
<rect x="434" y="424" width="1" height="10" fill="#800080"/>
<rect x="435" y="424" width="1" height="4" fill="#800080"/>
<rect x="436" y="424" width="1" height="1" fill="#800080"/>
<rect x="437" y="422" width="1" height="1" fill="#800080"/>
<rect x="438" y="421" width="1" height="2" fill="#800080"/>
<rect x="439" y="419" width="1" height="4" fill="#800080"/>
<rect x="440" y="416" width="1" height="7" fill="#800080"/>
<rect x="441" y="415" width="1" height="8" fill="#800080"/>
<rect x="442" y="414" width="1" height="9" fill="#800080"/>
<rect x="443" y="415" width="1" height="8" fill="#800080"/>
<rect x="444" y="415" width="1" height="8" fill="#800080"/>
<rect x="445" y="416" width="1" height="7" fill="#800080"/>
<rect x="446" y="417" width="1" height="6" fill="#800080"/>
<rect x="447" y="415" width="1" height="8" fill="#800080"/>
<rect x="448" y="413" width="1" height="10" fill="#800080"/>
<rect x="449" y="410" width="1" height="13" fill="#800080"/>
<rect x="450" y="407" width="1" height="16" fill="#800080"/>
<rect x="451" y="406" width="1" height="17" fill="#800080"/>
<rect x="452" y="408" width="1" height="15" fill="#800080"/>
<rect x="453" y="409" width="1" height="14" fill="#800080"/>
<rect x="454" y="412" width="1" height="11" fill="#800080"/>
<rect x="455" y="417" width="1" height="6" fill="#800080"/>
<rect x="456" y="421" width="1" height="2" fill="#800080"/>
<rect x="457" y="422" width="1" height="1" fill="#800080"/>
<rect x="458" y="424" width="1" height="2" fill="#800080"/>
<rect x="459" y="424" width="1" height="2" fill="#800080"/>
<rect x="460" y="424" width="1" height="4" fill="#800080"/>
<rect x="461" y="424" width="1" height="4" fill="#800080"/>
<rect x="462" y="424" width="1" height="7" fill="#800080"/>
<rect x="463" y="424" width="1" height="7" fill="#800080"/>
<rect x="464" y="424" width="1" height="9" fill="#800080"/>
<rect x="465" y="424" width="1" height="11" fill="#800080"/>
<rect x="466" y="424" width="1" height="13" fill="#800080"/>
<rect x="467" y="424" width="1" height="13" fill="#800080"/>
<rect x="468" y="424" width="1" height="15" fill="#800080"/>
<rect x="469" y="424" width="1" height="17" fill="#800080"/>
<rect x="470" y="424" width="1" height="17" fill="#800080"/>
<rect x="471" y="424" width="1" height="18" fill="#800080"/>
<rect x="472" y="424" width="1" height="18" fill="#800080"/>
<rect x="473" y="424" width="1" height="17" fill="#800080"/>
<rect x="474" y="424" width="1" height="17" fill="#800080"/>
<rect x="475" y="424" width="1" height="17" fill="#800080"/>
<rect x="476" y="424" width="1" height="17" fill="#800080"/>
<rect x="477" y="424" width="1" height="16" fill="#800080"/>
<rect x="478" y="424" width="1" height="18" fill="#800080"/>
<rect x="479" y="424" width="1" height="20" fill="#800080"/>
<rect x="480" y="424" width="1" height="23" fill="#800080"/>
<rect x="481" y="424" width="1" height="26" fill="#800080"/>
<rect x="482" y="424" width="1" height="31" fill="#800080"/>
<rect x="483" y="424" width="1" height="34" fill="#800080"/>
<rect x="484" y="424" width="1" height="38" fill="#800080"/>
<rect x="485" y="424" width="1" height="37" fill="#800080"/>
<rect x="486" y="424" width="1" height="35" fill="#800080"/>
<rect x="487" y="424" width="1" height="35" fill="#800080"/>
<rect x="488" y="424" width="1" height="34" fill="#800080"/>
<rect x="489" y="424" width="1" height="35" fill="#800080"/>
<rect x="490" y="424" width="1" height="36" fill="#800080"/>
<rect x="491" y="424" width="1" height="38" fill="#800080"/>
<rect x="492" y="424" width="1" height="39" fill="#800080"/>
<rect x="493" y="424" width="1" height="42" fill="#800080"/>
<rect x="494" y="424" width="1" height="44" fill="#800080"/>
</g>
<line x1="2" y1="409.5" x2="630" y2="409.5" stroke="#c0c0c0" stroke-dasharray="3,3"/>
<line x1="2" y1="447.5" x2="630" y2="447.5" stroke="#c0c0c0" stroke-dasharray="3,3"/>
<polyline points="3.5,409.0 4.5,408.8 5.5,408.5 6.5,408.1 7.5,407.6 8.5,407.1 9.5,406.6 10.5,406.1 11.5,405.5 12.5,404.8 13.5,404.1 14.5,403.3 15.5,402.6 16.5,401.8 17.5,401.0 18.5,400.3 19.5,399.8 20.5,399.4 21.5,399.1 22.5,398.9 23.5,398.7 24.5,398.5 25.5,398.3 26.5,398.2 27.5,398.2 28.5,398.1 29.5,398.1 30.5,398.0 31.5,398.0 32.5,398.0 33.5,398.0 34.5,398.0 35.5,398.0 36.5,398.0 37.5,398.0 38.5,398.0 39.5,398.0 40.5,398.0 41.5,398.3 42.5,398.7 43.5,399.3 44.5,399.9 45.5,400.6 46.5,401.7 47.5,403.1 48.5,404.7 49.5,406.5 50.5,408.3 51.5,410.3 52.5,412.5 53.5,414.8 54.5,417.2 55.5,418.9 56.5,420.3 57.5,420.6 58.5,420.2 59.5,419.4 60.5,418.3 61.5,416.9 62.5,415.4 63.5,413.8 64.5,412.2 65.5,410.5 66.5,408.6 67.5,406.6 68.5,404.5 69.5,402.4 70.5,401.1 71.5,401.0 72.5,401.9 73.5,403.6 74.5,406.0 75.5,409.0 76.5,411.9 77.5,414.8 78.5,417.2 79.5,418.8 80.5,419.8 81.5,420.5 82.5,421.0 83.5,421.1 84.5,421.0 85.5,420.7 86.5,420.8 87.5,421.4 88.5,422.4 89.5,424.0 90.5,425.9 91.5,427.8 92.5,429.5 93.5,431.2 94.5,432.8 95.5,433.7 96.5,434.3 97.5,434.6 98.5,434.5 99.5,434.1 100.5,433.4 101.5,432.5 102.5,431.6 103.5,430.2 104.5,428.3 105.5,426.4 106.5,424.6 107.5,423.0 108.5,421.5 109.5,420.3 110.5,419.2 111.5,418.3 112.5,417.4 113.5,416.5 114.5,415.7 115.5,415.3 116.5,415.1 117.5,415.1 118.5,415.3 119.5,415.5 120.5,415.2 121.5,414.5 122.5,413.6 123.5,413.1 124.5,413.4 125.5,414.2 126.5,415.1 127.5,415.9 128.5,416.7 129.5,417.5 130.5,418.4 131.5,419.0 132.5,419.6 133.5,420.1 134.5,420.6 135.5,421.1 136.5,421.5 137.5,421.9 138.5,422.3 139.5,422.7 140.5,423.1 141.5,423.4 142.5,423.7 143.5,424.0 144.5,424.4 145.5,424.7 146.5,424.9 147.5,425.2 148.5,425.5 149.5,426.6 150.5,428.4 151.5,430.9 152.5,433.9 153.5,436.6 154.5,438.4 155.5,439.7 156.5,440.6 157.5,441.3 158.5,441.8 159.5,442.1 160.5,442.4 161.5,442.7 162.5,443.1 163.5,443.5 164.5,443.8 165.5,444.2 166.5,444.6 167.5,445.0 168.5,445.4 169.5,445.8 170.5,446.3 171.5,446.7 172.5,447.2 173.5,447.6 174.5,448.1 175.5,448.1 176.5,447.8 177.5,447.4 178.5,446.8 179.5,446.2 180.5,445.5 181.5,444.8 182.5,444.1 183.5,443.4 184.5,442.7 185.5,442.0 186.5,441.4 187.5,440.7 188.5,440.3 189.5,440.4 190.5,440.8 191.5,441.5 192.5,442.2 193.5,443.1 194.5,444.0 195.5,445.0 196.5,446.1 197.5,447.2 198.5,447.5 199.5,446.5 200.5,444.6 201.5,442.1 202.5,438.9 203.5,435.2 204.5,431.2 205.5,427.7 206.5,424.6 207.5,421.8 208.5,420.3 209.5,419.8 210.5,419.8 211.5,420.1 212.5,420.6 213.5,421.1 214.5,421.8 215.5,423.0 216.5,424.7 217.5,426.7 218.5,428.6 219.5,430.3 220.5,431.8 221.5,433.2 222.5,434.0 223.5,434.5 224.5,434.8 225.5,434.8 226.5,434.4 227.5,433.6 228.5,432.6 229.5,431.4 230.5,430.0 231.5,428.6 232.5,427.0 233.5,425.2 234.5,422.9 235.5,420.3 236.5,417.6 237.5,415.2 238.5,413.2 239.5,411.3 240.5,409.6 241.5,408.3 242.5,407.2 243.5,406.4 244.5,405.8 245.5,405.2 246.5,405.3 247.5,405.9 248.5,406.7 249.5,407.8 250.5,409.4 251.5,411.3 252.5,413.4 253.5,415.5 254.5,417.5 255.5,419.3 256.5,421.3 257.5,423.4 258.5,425.7 259.5,428.0 260.5,430.3 261.5,432.3 262.5,434.1 263.5,435.8 264.5,437.4 265.5,438.9 266.5,440.4 267.5,441.8 268.5,443.3 269.5,444.7 270.5,446.1 271.5,447.2 272.5,448.1 273.5,448.4 274.5,447.9 275.5,447.0 276.5,445.5 277.5,443.7 278.5,441.6 279.5,439.4 280.5,437.1 281.5,434.7 282.5,432.3 283.5,430.0 284.5,428.1 285.5,426.4 286.5,425.0 287.5,423.8 288.5,422.8 289.5,421.8 290.5,420.9 291.5,420.4 292.5,420.3 293.5,420.4 294.5,420.6 295.5,420.7 296.5,420.8 297.5,420.9 298.5,420.7 299.5,420.4 300.5,419.9 301.5,419.9 302.5,420.3 303.5,420.9 304.5,421.6 305.5,422.7 306.5,424.1 307.5,425.7 308.5,427.5 309.5,429.3 310.5,431.2 311.5,433.1 312.5,434.1 313.5,434.6 314.5,434.6 315.5,434.4 316.5,433.9 317.5,433.1 318.5,432.2 319.5,431.2 320.5,430.2 321.5,429.2 322.5,428.3 323.5,427.4 324.5,426.5 325.5,425.7 326.5,425.0 327.5,424.4 328.5,423.7 329.5,422.6 330.5,421.3 331.5,419.9 332.5,418.3 333.5,416.5 334.5,414.7 335.5,412.8 336.5,410.9 337.5,409.0 338.5,408.4 339.5,408.8 340.5,409.9 341.5,410.8 342.5,411.7 343.5,412.5 344.5,413.4 345.5,413.0 346.5,411.7 347.5,410.0 348.5,407.9 349.5,405.5 350.5,403.0 351.5,400.3 352.5,398.7 353.5,397.6 354.5,396.9 355.5,396.6 356.5,396.4 357.5,396.4 358.5,396.5 359.5,396.6 360.5,398.1 361.5,400.4 362.5,402.7 363.5,405.1 364.5,407.6 365.5,410.0 366.5,412.5 367.5,415.1 368.5,417.7 369.5,421.0 370.5,424.7 371.5,428.8 372.5,432.7 373.5,436.6 374.5,440.5 375.5,444.3 376.5,447.2 377.5,449.6 378.5,451.6 379.5,453.4 380.5,453.4 381.5,452.3 382.5,452.5 383.5,453.7 384.5,455.4 385.5,457.6 386.5,460.0 387.5,460.6 388.5,459.8 389.5,458.2 390.5,455.9 391.5,453.2 392.5,450.1 393.5,446.9 394.5,443.6 395.5,440.2 396.5,436.8 397.5,433.8 398.5,431.0 399.5,428.4 400.5,425.8 401.5,423.4 402.5,421.0 403.5,419.3 404.5,418.7 405.5,418.8 406.5,419.5 407.5,420.7 408.5,423.0 409.5,426.1 410.5,429.7 411.5,432.4 412.5,434.6 413.5,436.4 414.5,437.9 415.5,439.3 416.5,440.3 417.5,441.2 418.5,442.0 419.5,442.7 420.5,443.4 421.5,444.0 422.5,444.5 423.5,445.1 424.5,445.7 425.5,446.3 426.5,446.9 427.5,447.5 428.5,448.1 429.5,448.8 430.5,448.6 431.5,447.9 432.5,446.9 433.5,444.9 434.5,441.4 435.5,437.0 436.5,432.9 437.5,429.3 438.5,426.2 439.5,423.5 440.5,421.0 441.5,419.1 442.5,417.6 443.5,416.5 444.5,416.1 445.5,416.1 446.5,416.4 447.5,415.9 448.5,414.8 449.5,413.3 450.5,411.6 451.5,409.8 452.5,409.2 453.5,409.5 454.5,410.3 455.5,412.3 456.5,415.1 457.5,417.9 458.5,420.2 459.5,422.0 460.5,423.7 461.5,425.3 462.5,426.9 463.5,428.5 464.5,430.1 465.5,431.7 466.5,433.3 467.5,434.8 468.5,436.2 469.5,437.7 470.5,439.1 471.5,440.0 472.5,440.5 473.5,440.7 474.5,440.8 475.5,440.8 476.5,440.7 477.5,440.5 478.5,440.8 479.5,442.0 480.5,443.7 481.5,445.8 482.5,448.5 483.5,451.6 484.5,455.0 485.5,456.9 486.5,457.6 487.5,457.7 488.5,457.6 489.5,458.0 490.5,458.6 491.5,459.4 492.5,460.7 493.5,462.3 494.5,464.1" fill="none" stroke="#ff0000" stroke-width="1" stroke-dasharray="2,2"/>
<polyline points="3.5,420 4.5,417 5.5,413 6.5,413 7.5,416 8.5,413 9.5,413 10.5,411 11.5,411 12.5,410 13.5,411 14.5,413 15.5,417 16.5,412 17.5,410 18.5,406 19.5,406 20.5,406 21.5,404 22.5,398 23.5,403 24.5,406 25.5,408 26.5,414 27.5,414 28.5,413 29.5,411 30.5,407 31.5,406 32.5,408 33.5,404 34.5,407 35.5,407 36.5,409 37.5,410 38.5,413 39.5,418 40.5,416 41.5,423 42.5,419 43.5,420 44.5,422 45.5,422 46.5,422 47.5,421 48.5,422 49.5,425 50.5,427 51.5,427 52.5,433 53.5,433 54.5,434 55.5,431 56.5,429 57.5,426 58.5,423 59.5,423 60.5,418 61.5,419 62.5,416 63.5,415 64.5,416 65.5,410 66.5,409 67.5,406 68.5,405 69.5,400 70.5,404 71.5,413 72.5,423 73.5,429 74.5,432 75.5,430 76.5,432 77.5,434 78.5,433 79.5,430 80.5,430 81.5,429 82.5,425 83.5,428 84.5,422 85.5,427 86.5,427 87.5,431 88.5,433 89.5,436 90.5,438 91.5,439 92.5,440 93.5,439 94.5,436 95.5,436 96.5,435 97.5,433 98.5,437 99.5,435 100.5,433 101.5,432 102.5,430 103.5,431 104.5,427 105.5,422 106.5,424 107.5,420 108.5,422 109.5,419 110.5,419 111.5,422 112.5,423 113.5,424 114.5,423 115.5,425 116.5,424 117.5,421 118.5,421 119.5,419 120.5,419 121.5,416 122.5,418 123.5,419 124.5,425 125.5,428 126.5,429 127.5,427 128.5,428 129.5,428 130.5,429 131.5,426 132.5,430 133.5,427 134.5,428 135.5,429 136.5,428 137.5,433 138.5,432 139.5,436 140.5,437 141.5,433 142.5,433 143.5,433 144.5,429 145.5,428 146.5,429 147.5,433 148.5,434 149.5,437 150.5,443 151.5,449 152.5,445 153.5,443 154.5,442 155.5,439 156.5,438 157.5,441 158.5,439 159.5,442 160.5,440 161.5,444 162.5,441 163.5,445 164.5,446 165.5,444 166.5,446 167.5,441 168.5,439 169.5,441 170.5,442 171.5,443 172.5,441 173.5,446 174.5,447 175.5,444 176.5,442 177.5,438 178.5,438 179.5,440 180.5,439 181.5,436 182.5,434 183.5,435 184.5,436 185.5,436 186.5,433 187.5,434 188.5,434 189.5,436 190.5,436 191.5,436 192.5,440 193.5,441 194.5,448 195.5,448 196.5,447 197.5,446 198.5,441 199.5,439 200.5,435 201.5,435 202.5,431 203.5,428 204.5,426 205.5,419 206.5,419 207.5,421 208.5,422 209.5,425 210.5,428 211.5,426 212.5,427 213.5,429 214.5,431 215.5,434 216.5,433 217.5,438 218.5,435 219.5,436 220.5,434 221.5,433 222.5,437 223.5,436 224.5,439 225.5,439 226.5,436 227.5,430 228.5,430 229.5,427 230.5,427 231.5,427 232.5,423 233.5,421 234.5,419 235.5,413 236.5,416 237.5,414 238.5,412 239.5,409 240.5,410 241.5,411 242.5,413 243.5,411 244.5,412 245.5,405 246.5,414 247.5,420 248.5,423 249.5,423 250.5,426 251.5,431 252.5,429 253.5,431 254.5,433 255.5,435 256.5,438 257.5,439 258.5,436 259.5,442 260.5,440 261.5,441 262.5,446 263.5,444 264.5,444 265.5,446 266.5,447 267.5,448 268.5,450 269.5,452 270.5,453 271.5,452 272.5,459 273.5,447 274.5,442 275.5,440 276.5,439 277.5,436 278.5,436 279.5,438 280.5,436 281.5,434 282.5,434 283.5,429 284.5,427 285.5,425 286.5,425 287.5,423 288.5,424 289.5,422 290.5,419 291.5,424 292.5,424 293.5,429 294.5,428 295.5,428 296.5,425 297.5,418 298.5,419 299.5,421 300.5,426 301.5,423 302.5,428 303.5,429 304.5,430 305.5,432 306.5,432 307.5,434 308.5,437 309.5,440 310.5,443 311.5,445 312.5,440 313.5,437 314.5,435 315.5,430 316.5,429 317.5,429 318.5,428 319.5,428 320.5,423 321.5,426 322.5,426 323.5,427 324.5,422 325.5,424 326.5,425 327.5,425 328.5,427 329.5,427 330.5,424 331.5,425 332.5,421 333.5,418 334.5,419 335.5,414 336.5,412 337.5,411 338.5,415 339.5,421 340.5,424 341.5,428 342.5,429 343.5,427 344.5,424 345.5,416 346.5,415 347.5,414 348.5,413 349.5,414 350.5,411 351.5,412 352.5,411 353.5,410 354.5,411 355.5,413 356.5,415 357.5,414 358.5,413 359.5,412 360.5,416 361.5,423 362.5,423 363.5,425 364.5,429 365.5,425 366.5,425 367.5,428 368.5,431 369.5,435 370.5,436 371.5,438 372.5,439 373.5,444 374.5,445 375.5,449 376.5,446 377.5,443 378.5,439 379.5,429 380.5,438 381.5,445 382.5,446 383.5,446 384.5,449 385.5,448 386.5,446 387.5,446 388.5,442 389.5,440 390.5,437 391.5,436 392.5,433 393.5,433 394.5,430 395.5,426 396.5,425 397.5,424 398.5,420 399.5,420 400.5,418 401.5,418 402.5,417 403.5,423 404.5,426 405.5,429 406.5,433 407.5,441 408.5,440 409.5,436 410.5,433 411.5,435 412.5,433 413.5,434 414.5,439 415.5,438 416.5,438 417.5,439 418.5,439 419.5,436 420.5,441 421.5,441 422.5,440 423.5,437 424.5,442 425.5,443 426.5,440 427.5,440 428.5,441 429.5,438 430.5,439 431.5,437 432.5,436 433.5,432 434.5,427 435.5,426 436.5,430 437.5,424 438.5,424 439.5,422 440.5,422 441.5,420 442.5,418 443.5,420 444.5,420 445.5,426 446.5,426 447.5,421 448.5,423 449.5,423 450.5,420 451.5,414 452.5,418 453.5,420 454.5,426 455.5,431 456.5,437 457.5,431 458.5,433 459.5,429 460.5,426 461.5,432 462.5,427 463.5,432 464.5,434 465.5,439 466.5,440 467.5,442 468.5,439 469.5,438 470.5,436 471.5,432 472.5,430 473.5,432 474.5,435 475.5,436 476.5,441 477.5,439 478.5,437 479.5,441 480.5,443 481.5,445 482.5,449 483.5,446 484.5,444 485.5,442 486.5,441 487.5,440 488.5,441 489.5,445 490.5,444 491.5,445 492.5,450 493.5,449 494.5,450" fill="none" stroke="#1e90ff" stroke-width="2" stroke-linejoin="round"/>
<rect x="2" y="2" width="629" height="1" fill="#000"/>
<rect x="2" y="2" width="1" height="377" fill="#000"/>
<rect x="2" y="378" width="629" height="1" fill="#000"/>
<rect x="2" y="380" width="629" height="1" fill="#000"/>
<rect x="631" y="381" width="4" height="1" fill="#000"/>
<rect x="2" y="380" width="1" height="97" fill="#000"/>
<rect x="2" y="476" width="629" height="1" fill="#000"/>
<rect x="631" y="475" width="4" height="1" fill="#000"/>
<rect x="630" y="2" width="1" height="377" fill="#000"/>
<rect x="630" y="380" width="1" height="97" fill="#000"/>
<rect x="631" y="26" width="4" height="1" fill="#000"/>
<text x="636" y="31" font-size="12.5" fill="#000" stroke="#000" stroke-width="0.25" letter-spacing="0.05">0.87295</text>
<rect x="631" y="58" width="4" height="1" fill="#000"/>
<text x="636" y="63" font-size="12.5" fill="#000" stroke="#000" stroke-width="0.25" letter-spacing="0.05">0.84180</text>
<rect x="631" y="90" width="4" height="1" fill="#000"/>
<text x="636" y="95" font-size="12.5" fill="#000" stroke="#000" stroke-width="0.25" letter-spacing="0.05">0.81065</text>
<rect x="631" y="122" width="4" height="1" fill="#000"/>
<text x="636" y="127" font-size="12.5" fill="#000" stroke="#000" stroke-width="0.25" letter-spacing="0.05">0.77950</text>
<rect x="631" y="154" width="4" height="1" fill="#000"/>
<text x="636" y="159" font-size="12.5" fill="#000" stroke="#000" stroke-width="0.25" letter-spacing="0.05">0.74835</text>
<rect x="631" y="186" width="4" height="1" fill="#000"/>
<text x="636" y="191" font-size="12.5" fill="#000" stroke="#000" stroke-width="0.25" letter-spacing="0.05">0.71720</text>
<rect x="631" y="218" width="4" height="1" fill="#000"/>
<text x="636" y="223" font-size="12.5" fill="#000" stroke="#000" stroke-width="0.25" letter-spacing="0.05">0.68605</text>
<rect x="631" y="250" width="4" height="1" fill="#000"/>
<text x="636" y="255" font-size="12.5" fill="#000" stroke="#000" stroke-width="0.25" letter-spacing="0.05">0.65490</text>
<rect x="631" y="282" width="4" height="1" fill="#000"/>
<text x="636" y="287" font-size="12.5" fill="#000" stroke="#000" stroke-width="0.25" letter-spacing="0.05">0.62375</text>
<rect x="631" y="314" width="4" height="1" fill="#000"/>
<text x="636" y="319" font-size="12.5" fill="#000" stroke="#000" stroke-width="0.25" letter-spacing="0.05">0.59260</text>
<rect x="631" y="346" width="4" height="1" fill="#000"/>
<text x="636" y="351" font-size="12.5" fill="#000" stroke="#000" stroke-width="0.25" letter-spacing="0.05">0.56145</text>
<rect x="633" y="183" width="54" height="14" fill="#0000ff"/>
<text x="637" y="195" font-size="12.5" fill="#fff" stroke="#fff" stroke-width="0.25" letter-spacing="0.05">0.71353</text>
<rect x="633" y="205" width="54" height="14" fill="#0000ff"/>
<text x="637" y="217" font-size="12.5" fill="#fff" stroke="#fff" stroke-width="0.25" letter-spacing="0.05">0.69122</text>
<rect x="633" y="243" width="54" height="14" fill="#ff0000"/>
<text x="637" y="255" font-size="12.5" fill="#fff" stroke="#fff" stroke-width="0.25" letter-spacing="0.05">0.65512</text>
<rect x="633" y="272" width="54" height="14" fill="#c0c0c0"/>
<text x="637" y="284" font-size="12.5" fill="#fff" stroke="#fff" stroke-width="0.25" letter-spacing="0.05">0.62679</text>
<rect x="633" y="290" width="54" height="14" fill="#0000ff"/>
<text x="637" y="302" font-size="12.5" fill="#fff" stroke="#fff" stroke-width="0.25" letter-spacing="0.05">0.60912</text>
<rect x="633" y="310" width="54" height="14" fill="#0000ff"/>
<text x="637" y="322" font-size="12.5" fill="#fff" stroke="#fff" stroke-width="0.25" letter-spacing="0.05">0.59000</text>
<rect x="631" y="409" width="4" height="1" fill="#000"/>
<text x="636" y="414" font-size="12.5" fill="#000" stroke="#000" stroke-width="0.25" letter-spacing="0.05">70.00</text>
<rect x="631" y="447" width="4" height="1" fill="#000"/>
<text x="636" y="452" font-size="12.5" fill="#000" stroke="#000" stroke-width="0.25" letter-spacing="0.05">30.00</text>
<text x="636" y="392" font-size="12.5" fill="#000" stroke="#000" stroke-width="0.25" letter-spacing="0.05">0.025482</text>
<text x="636" y="474" font-size="12.5" fill="#000" stroke="#000" stroke-width="0.25" letter-spacing="0.05">-0.031317</text>
<text x="8.2" y="16" font-size="12.5" fill="#000" stroke="#000" stroke-width="0.25" textLength="47.5" lengthAdjust="spacingAndGlyphs">AUDUSD,</text>
<text x="62.4" y="16" font-size="12.5" fill="#000" stroke="#000" stroke-width="0.25" textLength="27.9" lengthAdjust="spacingAndGlyphs">Daily:</text>
<text x="99.5" y="16" font-size="12.5" fill="#000" stroke="#000" stroke-width="0.25" textLength="47.2" lengthAdjust="spacingAndGlyphs">Australian</text>
<text x="151.5" y="16" font-size="12.5" fill="#000" stroke="#000" stroke-width="0.25" textLength="30.3" lengthAdjust="spacingAndGlyphs">Dollar</text>
<text x="186.8" y="16" font-size="12.5" fill="#000" stroke="#000" stroke-width="0.25" textLength="10.1" lengthAdjust="spacingAndGlyphs">vs</text>
<text x="202.4" y="16" font-size="12.5" fill="#000" stroke="#000" stroke-width="0.25" textLength="13" lengthAdjust="spacingAndGlyphs">US</text>
<text x="220.6" y="16" font-size="12.5" fill="#000" stroke="#000" stroke-width="0.25" textLength="29.4" lengthAdjust="spacingAndGlyphs">Dollar</text>
<text x="5.1" y="396" font-size="12.5" fill="#000" stroke="#000" stroke-width="0.25" textLength="78.5" lengthAdjust="spacingAndGlyphs">MACD(5,34,5)</text>
<text x="87.9" y="396" font-size="12.5" fill="#000" stroke="#000" stroke-width="0.25" textLength="55.7" lengthAdjust="spacingAndGlyphs">-0.026388</text>
<text x="147.9" y="396" font-size="12.5" fill="#000" stroke="#000" stroke-width="0.25" textLength="57" lengthAdjust="spacingAndGlyphs">-0.023528</text>
<text x="210" y="396" font-size="12.5" fill="#000" stroke="#000" stroke-width="0.25" textLength="42.9" lengthAdjust="spacingAndGlyphs">RSI(14)</text>
<text x="258" y="396" font-size="12.5" fill="#000" stroke="#000" stroke-width="0.25" textLength="28.3" lengthAdjust="spacingAndGlyphs">28.15</text>
<rect x="2" y="477" width="1" height="4" fill="#000"/>
<text x="3.2" y="492" font-size="12.5" fill="#000" stroke="#000" stroke-width="0.25" textLength="69" lengthAdjust="spacingAndGlyphs">19 Nov 2020</text>
<rect x="130" y="477" width="1" height="4" fill="#000"/>
<text x="131.2" y="492" font-size="12.5" fill="#000" stroke="#000" stroke-width="0.25" textLength="69" lengthAdjust="spacingAndGlyphs">20 May 2021</text>
<rect x="258" y="477" width="1" height="4" fill="#000"/>
<text x="259.2" y="492" font-size="12.5" fill="#000" stroke="#000" stroke-width="0.25" textLength="69" lengthAdjust="spacingAndGlyphs">16 Nov 2021</text>
<rect x="386" y="477" width="1" height="4" fill="#000"/>
<text x="387.2" y="492" font-size="12.5" fill="#000" stroke="#000" stroke-width="0.25" textLength="69" lengthAdjust="spacingAndGlyphs">13 May 2022</text>
</svg>
</div></body></html>
